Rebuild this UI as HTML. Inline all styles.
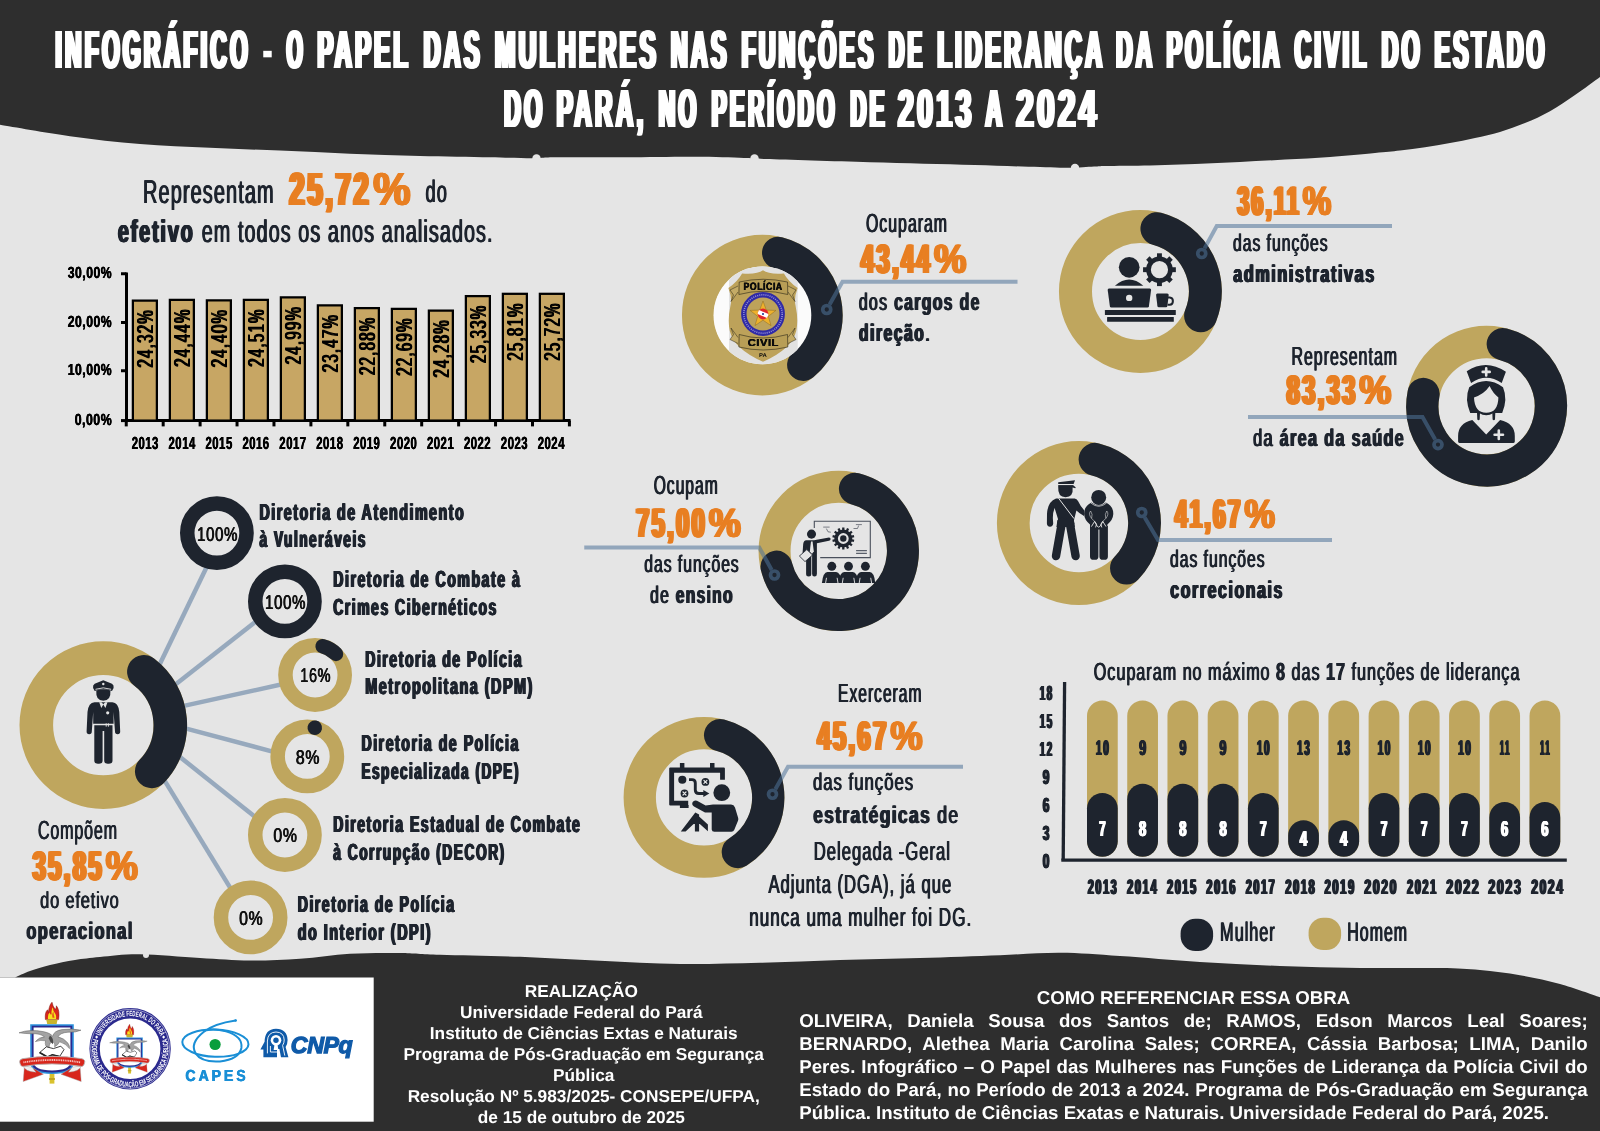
<!DOCTYPE html>
<html><head><meta charset="utf-8"><title>Infografico</title>
<style>html,body{margin:0;padding:0;background:#e5e5e5}svg{display:block;will-change:transform}text{font-family:"Liberation Sans",sans-serif}</style>
</head><body>
<svg width="1600" height="1131" viewBox="0 0 1600 1131" font-family="Liberation Sans, sans-serif" text-rendering="geometricPrecision">
<rect width="1600" height="1131" fill="#e5e5e5"/>
<path d="M0.0 124.8 C11.7 126.7 46.7 133.0 70.0 136.2 C93.3 139.4 116.7 142.1 140.0 144.0 C163.3 145.9 186.7 146.7 210.0 147.8 C233.3 148.9 256.7 149.6 280.0 150.6 C303.3 151.6 326.7 152.8 350.0 153.7 C373.3 154.6 396.7 155.3 420.0 155.9 C443.3 156.5 471.3 156.9 490.0 157.3 C508.7 157.7 521.2 158.3 532.0 158.3 C542.8 158.3 539.5 157.4 555.0 157.2 C570.5 157.0 601.7 157.4 625.0 157.3 C648.3 157.2 675.2 156.7 695.0 156.8 C714.8 156.9 732.3 157.6 744.0 158.0 C755.7 158.4 744.0 158.3 765.0 159.0 C786.0 159.7 835.0 161.2 870.0 162.2 C905.0 163.2 943.3 164.1 975.0 165.0 C1006.7 165.9 1040.2 167.4 1060.0 167.7 C1079.8 167.9 1086.5 166.8 1094.0 166.5 C1101.5 166.2 1095.7 166.1 1105.0 165.9 C1114.3 165.7 1135.0 165.7 1150.0 165.4 C1165.0 165.1 1180.0 164.7 1195.0 164.1 C1210.0 163.5 1225.0 162.8 1240.0 162.0 C1255.0 161.2 1270.0 160.4 1285.0 159.6 C1300.0 158.8 1315.0 158.0 1330.0 156.9 C1345.0 155.8 1363.3 154.1 1375.0 153.0 C1386.7 151.9 1391.7 151.6 1400.0 150.6 C1408.3 149.6 1416.7 148.4 1425.0 147.2 C1433.3 145.9 1441.7 144.6 1450.0 143.1 C1458.3 141.6 1466.7 140.0 1475.0 138.1 C1483.3 136.2 1491.7 134.4 1500.0 131.9 C1508.3 129.4 1516.7 126.5 1525.0 123.1 C1533.3 119.6 1541.7 115.9 1550.0 111.2 C1558.3 106.5 1566.7 100.7 1575.0 95.0 C1583.3 89.3 1595.8 79.9 1600.0 76.9 L1600 0 L0 0 Z" fill="#2e2e2e"/>
<circle cx="536.5" cy="158.5" r="4.2" fill="#e5e5e5"/>
<circle cx="754.5" cy="158.5" r="4.2" fill="#e5e5e5"/>
<circle cx="1075.0" cy="168.0" r="4.2" fill="#e5e5e5"/>
<path d="M0 1131 L0 977.5 L15 977.5 L15.0 977.5 C17.5 976.4 24.2 973.1 30.0 971.0 C35.8 968.9 42.5 966.8 50.0 965.0 C57.5 963.2 66.7 961.3 75.0 960.0 C83.3 958.7 89.2 958.0 100.0 957.0 C110.8 956.0 123.3 954.1 140.0 954.3 C156.7 954.5 181.7 957.0 200.0 958.0 C218.3 959.0 233.3 960.4 250.0 960.5 C266.7 960.6 283.3 959.8 300.0 958.7 C316.7 957.6 333.3 954.7 350.0 953.7 C366.7 952.8 385.0 952.8 400.0 953.0 C415.0 953.2 420.0 954.2 440.0 954.8 C460.0 955.4 493.3 955.8 520.0 956.8 C546.7 957.8 573.3 959.6 600.0 960.8 C626.7 962.0 653.3 963.7 680.0 964.0 C706.7 964.3 733.3 963.5 760.0 962.8 C786.7 962.1 813.3 960.8 840.0 960.0 C866.7 959.2 893.3 958.8 920.0 958.0 C946.7 957.2 976.7 956.1 1000.0 955.2 C1023.3 954.3 1040.0 952.7 1060.0 952.8 C1080.0 952.9 1096.7 954.5 1120.0 956.0 C1143.3 957.5 1173.3 960.3 1200.0 962.0 C1226.7 963.7 1253.3 965.0 1280.0 966.0 C1306.7 967.0 1333.3 967.7 1360.0 968.0 C1386.7 968.3 1420.0 967.7 1440.0 968.0 C1460.0 968.3 1466.7 968.8 1480.0 970.0 C1493.3 971.2 1506.7 972.9 1520.0 975.2 C1533.3 977.5 1546.7 980.3 1560.0 984.0 C1573.3 987.7 1593.3 995.0 1600.0 997.2 L1600 1131 Z" fill="#2e2e2e"/>
<rect x="0" y="977.5" width="373.7" height="144.2" fill="#ffffff"/>
<circle cx="146" cy="955" r="3" fill="#e5e5e5"/>
<g transform="translate(55.45,68.20) scale(0.4206,1)" fill="#ffffff" font-size="53.78" letter-spacing="8.083"><text id="t1" xml:space="preserve"><tspan font-weight="bold">INFOGRÁFICO</tspan></text><use href="#t1" x="-4.041"/><use href="#t1" x="-2.425"/><use href="#t1" x="-0.808"/><use href="#t1" x="0.808"/><use href="#t1" x="2.425"/><use href="#t1" x="4.041"/></g>
<g transform="translate(262.00,68.20) scale(0.6142,1)" fill="#ffffff" font-size="53.78"><text xml:space="preserve"><tspan font-weight="bold">-</tspan></text></g>
<g transform="translate(286.70,68.20) scale(0.3788,1)" fill="#ffffff" font-size="53.78" letter-spacing="8.975"><text id="t3" xml:space="preserve"><tspan font-weight="bold">O</tspan></text><use href="#t3" x="-4.488"/><use href="#t3" x="-2.693"/><use href="#t3" x="-0.898"/><use href="#t3" x="0.898"/><use href="#t3" x="2.693"/><use href="#t3" x="4.488"/></g>
<g transform="translate(317.45,68.20) scale(0.4378,1)" fill="#ffffff" font-size="53.78" letter-spacing="7.767"><text id="t4" xml:space="preserve"><tspan font-weight="bold">PAPEL</tspan></text><use href="#t4" x="-3.883"/><use href="#t4" x="-2.330"/><use href="#t4" x="-0.777"/><use href="#t4" x="0.777"/><use href="#t4" x="2.330"/><use href="#t4" x="3.883"/></g>
<g transform="translate(423.70,68.20) scale(0.4321,1)" fill="#ffffff" font-size="53.78" letter-spacing="7.869"><text id="t5" xml:space="preserve"><tspan font-weight="bold">DAS</tspan></text><use href="#t5" x="-3.935"/><use href="#t5" x="-2.361"/><use href="#t5" x="-0.787"/><use href="#t5" x="0.787"/><use href="#t5" x="2.361"/><use href="#t5" x="3.935"/></g>
<g transform="translate(494.95,68.20) scale(0.4542,1)" fill="#ffffff" font-size="53.78" letter-spacing="7.486"><text id="t6" xml:space="preserve"><tspan font-weight="bold">MULHERES</tspan></text><use href="#t6" x="-3.743"/><use href="#t6" x="-2.246"/><use href="#t6" x="-0.749"/><use href="#t6" x="0.749"/><use href="#t6" x="2.246"/><use href="#t6" x="3.743"/></g>
<g transform="translate(670.95,68.20) scale(0.4276,1)" fill="#ffffff" font-size="53.78" letter-spacing="7.950"><text id="t7" xml:space="preserve"><tspan font-weight="bold">NAS</tspan></text><use href="#t7" x="-3.975"/><use href="#t7" x="-2.385"/><use href="#t7" x="-0.795"/><use href="#t7" x="0.795"/><use href="#t7" x="2.385"/><use href="#t7" x="3.975"/></g>
<g transform="translate(741.70,68.20) scale(0.4229,1)" fill="#ffffff" font-size="53.78" letter-spacing="8.039"><text id="t8" xml:space="preserve"><tspan font-weight="bold">FUNÇÕES</tspan></text><use href="#t8" x="-4.020"/><use href="#t8" x="-2.412"/><use href="#t8" x="-0.804"/><use href="#t8" x="0.804"/><use href="#t8" x="2.412"/><use href="#t8" x="4.020"/></g>
<g transform="translate(888.70,68.20) scale(0.4009,1)" fill="#ffffff" font-size="53.78" letter-spacing="8.480"><text id="t9" xml:space="preserve"><tspan font-weight="bold">DE</tspan></text><use href="#t9" x="-4.240"/><use href="#t9" x="-2.544"/><use href="#t9" x="-0.848"/><use href="#t9" x="0.848"/><use href="#t9" x="2.544"/><use href="#t9" x="4.240"/></g>
<g transform="translate(937.45,68.20) scale(0.4340,1)" fill="#ffffff" font-size="53.78" letter-spacing="7.834"><text id="t10" xml:space="preserve"><tspan font-weight="bold">LIDERANÇA</tspan></text><use href="#t10" x="-3.917"/><use href="#t10" x="-2.350"/><use href="#t10" x="-0.783"/><use href="#t10" x="0.783"/><use href="#t10" x="2.350"/><use href="#t10" x="3.917"/></g>
<g transform="translate(1116.20,68.20) scale(0.4179,1)" fill="#ffffff" font-size="53.78" letter-spacing="8.137"><text id="t11" xml:space="preserve"><tspan font-weight="bold">DA</tspan></text><use href="#t11" x="-4.068"/><use href="#t11" x="-2.441"/><use href="#t11" x="-0.814"/><use href="#t11" x="0.814"/><use href="#t11" x="2.441"/><use href="#t11" x="4.068"/></g>
<g transform="translate(1166.70,68.20) scale(0.4238,1)" fill="#ffffff" font-size="53.78" letter-spacing="8.022"><text id="t12" xml:space="preserve"><tspan font-weight="bold">POLÍCIA</tspan></text><use href="#t12" x="-4.011"/><use href="#t12" x="-2.407"/><use href="#t12" x="-0.802"/><use href="#t12" x="0.802"/><use href="#t12" x="2.407"/><use href="#t12" x="4.011"/></g>
<g transform="translate(1294.70,68.20) scale(0.4219,1)" fill="#ffffff" font-size="53.78" letter-spacing="8.058"><text id="t13" xml:space="preserve"><tspan font-weight="bold">CIVIL</tspan></text><use href="#t13" x="-4.029"/><use href="#t13" x="-2.417"/><use href="#t13" x="-0.806"/><use href="#t13" x="0.806"/><use href="#t13" x="2.417"/><use href="#t13" x="4.029"/></g>
<g transform="translate(1381.70,68.20) scale(0.4271,1)" fill="#ffffff" font-size="53.78" letter-spacing="7.961"><text id="t14" xml:space="preserve"><tspan font-weight="bold">DO</tspan></text><use href="#t14" x="-3.981"/><use href="#t14" x="-2.388"/><use href="#t14" x="-0.796"/><use href="#t14" x="0.796"/><use href="#t14" x="2.388"/><use href="#t14" x="3.981"/></g>
<g transform="translate(1434.70,68.20) scale(0.4207,1)" fill="#ffffff" font-size="53.78" letter-spacing="8.082"><text id="t15" xml:space="preserve"><tspan font-weight="bold">ESTADO</tspan></text><use href="#t15" x="-4.041"/><use href="#t15" x="-2.425"/><use href="#t15" x="-0.808"/><use href="#t15" x="0.808"/><use href="#t15" x="2.425"/><use href="#t15" x="4.041"/></g>
<g transform="translate(504.20,126.60) scale(0.4271,1)" fill="#ffffff" font-size="53.78" letter-spacing="7.961"><text id="t16" xml:space="preserve"><tspan font-weight="bold">DO</tspan></text><use href="#t16" x="-3.981"/><use href="#t16" x="-2.388"/><use href="#t16" x="-0.796"/><use href="#t16" x="0.796"/><use href="#t16" x="2.388"/><use href="#t16" x="3.981"/></g>
<g transform="translate(556.70,126.60) scale(0.4470,1)" fill="#ffffff" font-size="53.78" letter-spacing="7.607"><text id="t17" xml:space="preserve"><tspan font-weight="bold">PARÁ,</tspan></text><use href="#t17" x="-3.804"/><use href="#t17" x="-2.282"/><use href="#t17" x="-0.761"/><use href="#t17" x="0.761"/><use href="#t17" x="2.282"/><use href="#t17" x="3.804"/></g>
<g transform="translate(658.70,126.60) scale(0.4240,1)" fill="#ffffff" font-size="53.78" letter-spacing="8.020"><text id="t18" xml:space="preserve"><tspan font-weight="bold">NO</tspan></text><use href="#t18" x="-4.010"/><use href="#t18" x="-2.406"/><use href="#t18" x="-0.802"/><use href="#t18" x="0.802"/><use href="#t18" x="2.406"/><use href="#t18" x="4.010"/></g>
<g transform="translate(711.70,126.60) scale(0.4131,1)" fill="#ffffff" font-size="53.78" letter-spacing="8.231"><text id="t19" xml:space="preserve"><tspan font-weight="bold">PERÍODO</tspan></text><use href="#t19" x="-4.116"/><use href="#t19" x="-2.469"/><use href="#t19" x="-0.823"/><use href="#t19" x="0.823"/><use href="#t19" x="2.469"/><use href="#t19" x="4.116"/></g>
<g transform="translate(850.45,126.60) scale(0.4076,1)" fill="#ffffff" font-size="53.78" letter-spacing="8.341"><text id="t20" xml:space="preserve"><tspan font-weight="bold">DE</tspan></text><use href="#t20" x="-4.170"/><use href="#t20" x="-2.502"/><use href="#t20" x="-0.834"/><use href="#t20" x="0.834"/><use href="#t20" x="2.502"/><use href="#t20" x="4.170"/></g>
<g transform="translate(897.95,126.60) scale(0.5278,1)" fill="#ffffff" font-size="53.78" letter-spacing="6.442"><text id="t21" xml:space="preserve"><tspan font-weight="bold">2013</tspan></text><use href="#t21" x="-3.221"/><use href="#t21" x="-1.933"/><use href="#t21" x="-0.644"/><use href="#t21" x="0.644"/><use href="#t21" x="1.933"/><use href="#t21" x="3.221"/></g>
<g transform="translate(985.45,126.60) scale(0.4275,1)" fill="#ffffff" font-size="53.78" letter-spacing="7.953"><text id="t22" xml:space="preserve"><tspan font-weight="bold">A</tspan></text><use href="#t22" x="-3.976"/><use href="#t22" x="-2.386"/><use href="#t22" x="-0.795"/><use href="#t22" x="0.795"/><use href="#t22" x="2.386"/><use href="#t22" x="3.976"/></g>
<g transform="translate(1016.20,126.60) scale(0.5842,1)" fill="#ffffff" font-size="53.78" letter-spacing="5.820"><text id="t23" xml:space="preserve"><tspan font-weight="bold">2024</tspan></text><use href="#t23" x="-2.910"/><use href="#t23" x="-1.746"/><use href="#t23" x="-0.582"/><use href="#t23" x="0.582"/><use href="#t23" x="1.746"/><use href="#t23" x="2.910"/></g>
<g transform="translate(143.05,202.60) scale(0.6012,1)" fill="#1e242e" font-size="33.14" letter-spacing="1.830"><text id="t24" xml:space="preserve"><tspan font-weight="normal">Representam</tspan></text><use href="#t24" x="-0.915"/><use href="#t24" x="0.915"/></g>
<g transform="translate(289.55,204.90) scale(0.5757,1)" fill="#e87f22" font-size="46.51" letter-spacing="5.211"><text id="t25" xml:space="preserve"><tspan font-weight="bold">25,72</tspan></text><use href="#t25" x="-3.387"/><use href="#t25" x="-2.258"/><use href="#t25" x="-1.129"/><use href="#t25" x="1.129"/><use href="#t25" x="2.258"/><use href="#t25" x="3.387"/></g>
<g transform="translate(373.14,204.90) scale(0.9048,1)" fill="#e87f22" font-size="46.51" letter-spacing="2.542"><text id="t26" xml:space="preserve"><tspan font-weight="bold">%</tspan></text><use href="#t26" x="-1.271"/><use href="#t26" x="-0.636"/><use href="#t26" x="0.636"/><use href="#t26" x="1.271"/></g>
<g transform="translate(425.55,202.40) scale(0.5909,1)" fill="#1e242e" font-size="30.90" letter-spacing="1.862"><text id="t27" xml:space="preserve"><tspan font-weight="normal">do</tspan></text><use href="#t27" x="-0.931"/><use href="#t27" x="0.931"/></g>
<g transform="translate(117.90,241.70) scale(0.6324,1)" fill="#1e242e" font-size="31.45" letter-spacing="2.846"><text id="t28" xml:space="preserve"><tspan font-weight="bold">efetivo</tspan></text><use href="#t28" x="-1.423"/><use href="#t28" x="-0.474"/><use href="#t28" x="0.474"/><use href="#t28" x="1.423"/></g>
<g transform="translate(201.75,241.70) scale(0.6277,1)" fill="#1e242e" font-size="31.45" letter-spacing="1.752"><text id="t29" xml:space="preserve"><tspan font-weight="normal">em todos os anos analisados.</tspan></text><use href="#t29" x="-0.876"/><use href="#t29" x="0.876"/></g>
<g stroke="#000" stroke-width="3" fill="none">
<path d="M126.50 272.5 V422.10"/>
<path d="M125.00 420.60 H570.6"/>
<path d="M121 273.75 H126.50"/>
<path d="M121 322.50 H126.50"/>
<path d="M121 370.75 H126.50"/>
<path d="M121 420.60 H126.50"/>
<path d="M126.25 420.60 V426.4"/>
<path d="M163.18 420.60 V426.4"/>
<path d="M200.11 420.60 V426.4"/>
<path d="M237.04 420.60 V426.4"/>
<path d="M273.97 420.60 V426.4"/>
<path d="M310.90 420.60 V426.4"/>
<path d="M347.83 420.60 V426.4"/>
<path d="M384.76 420.60 V426.4"/>
<path d="M421.69 420.60 V426.4"/>
<path d="M458.62 420.60 V426.4"/>
<path d="M495.55 420.60 V426.4"/>
<path d="M532.48 420.60 V426.4"/>
<path d="M569.41 420.60 V426.4"/>
</g>
<rect x="132.87" y="300.62" width="24" height="119.98" fill="#c7a664" stroke="#000" stroke-width="2.25"/>
<g transform="translate(152.75,367.50) rotate(-90) scale(0.6455,1)" fill="#000" font-size="23.11" letter-spacing="2.014"><text id="t30" xml:space="preserve"><tspan font-weight="normal">24,32%</tspan></text><use href="#t30" x="-1.007"/><use href="#t30" x="1.007"/></g>
<rect x="169.87" y="299.87" width="24" height="120.73" fill="#c7a664" stroke="#000" stroke-width="2.25"/>
<g transform="translate(189.75,366.75) rotate(-90) scale(0.6455,1)" fill="#000" font-size="23.11" letter-spacing="2.014"><text id="t31" xml:space="preserve"><tspan font-weight="normal">24,44%</tspan></text><use href="#t31" x="-1.007"/><use href="#t31" x="1.007"/></g>
<rect x="206.87" y="300.37" width="24" height="120.23" fill="#c7a664" stroke="#000" stroke-width="2.25"/>
<g transform="translate(226.75,367.25) rotate(-90) scale(0.6455,1)" fill="#000" font-size="23.11" letter-spacing="2.014"><text id="t32" xml:space="preserve"><tspan font-weight="normal">24,40%</tspan></text><use href="#t32" x="-1.007"/><use href="#t32" x="1.007"/></g>
<rect x="243.87" y="299.87" width="24" height="120.73" fill="#c7a664" stroke="#000" stroke-width="2.25"/>
<g transform="translate(263.75,366.75) rotate(-90) scale(0.6455,1)" fill="#000" font-size="23.11" letter-spacing="2.014"><text id="t33" xml:space="preserve"><tspan font-weight="normal">24,51%</tspan></text><use href="#t33" x="-1.007"/><use href="#t33" x="1.007"/></g>
<rect x="280.87" y="297.37" width="24" height="123.23" fill="#c7a664" stroke="#000" stroke-width="2.25"/>
<g transform="translate(300.75,364.25) rotate(-90) scale(0.6455,1)" fill="#000" font-size="23.11" letter-spacing="2.014"><text id="t34" xml:space="preserve"><tspan font-weight="normal">24,99%</tspan></text><use href="#t34" x="-1.007"/><use href="#t34" x="1.007"/></g>
<rect x="317.87" y="305.37" width="24" height="115.23" fill="#c7a664" stroke="#000" stroke-width="2.25"/>
<g transform="translate(337.75,372.25) rotate(-90) scale(0.6455,1)" fill="#000" font-size="23.11" letter-spacing="2.014"><text id="t35" xml:space="preserve"><tspan font-weight="normal">23,47%</tspan></text><use href="#t35" x="-1.007"/><use href="#t35" x="1.007"/></g>
<rect x="354.87" y="308.12" width="24" height="112.48" fill="#c7a664" stroke="#000" stroke-width="2.25"/>
<g transform="translate(374.75,375.00) rotate(-90) scale(0.6455,1)" fill="#000" font-size="23.11" letter-spacing="2.014"><text id="t36" xml:space="preserve"><tspan font-weight="normal">22,88%</tspan></text><use href="#t36" x="-1.007"/><use href="#t36" x="1.007"/></g>
<rect x="391.87" y="308.87" width="24" height="111.73" fill="#c7a664" stroke="#000" stroke-width="2.25"/>
<g transform="translate(411.75,375.75) rotate(-90) scale(0.6455,1)" fill="#000" font-size="23.11" letter-spacing="2.014"><text id="t37" xml:space="preserve"><tspan font-weight="normal">22,69%</tspan></text><use href="#t37" x="-1.007"/><use href="#t37" x="1.007"/></g>
<rect x="428.87" y="310.62" width="24" height="109.98" fill="#c7a664" stroke="#000" stroke-width="2.25"/>
<g transform="translate(448.75,377.50) rotate(-90) scale(0.6455,1)" fill="#000" font-size="23.11" letter-spacing="2.014"><text id="t38" xml:space="preserve"><tspan font-weight="normal">24,28%</tspan></text><use href="#t38" x="-1.007"/><use href="#t38" x="1.007"/></g>
<rect x="465.87" y="296.12" width="24" height="124.48" fill="#c7a664" stroke="#000" stroke-width="2.25"/>
<g transform="translate(485.75,363.00) rotate(-90) scale(0.6455,1)" fill="#000" font-size="23.11" letter-spacing="2.014"><text id="t39" xml:space="preserve"><tspan font-weight="normal">25,33%</tspan></text><use href="#t39" x="-1.007"/><use href="#t39" x="1.007"/></g>
<rect x="502.87" y="293.82" width="24" height="126.78" fill="#c7a664" stroke="#000" stroke-width="2.25"/>
<g transform="translate(522.75,360.70) rotate(-90) scale(0.6455,1)" fill="#000" font-size="23.11" letter-spacing="2.014"><text id="t40" xml:space="preserve"><tspan font-weight="normal">25,81%</tspan></text><use href="#t40" x="-1.007"/><use href="#t40" x="1.007"/></g>
<rect x="539.87" y="293.82" width="24" height="126.78" fill="#c7a664" stroke="#000" stroke-width="2.25"/>
<g transform="translate(559.75,360.70) rotate(-90) scale(0.6455,1)" fill="#000" font-size="23.11" letter-spacing="2.014"><text id="t41" xml:space="preserve"><tspan font-weight="normal">25,72%</tspan></text><use href="#t41" x="-1.007"/><use href="#t41" x="1.007"/></g>
<g transform="translate(131.65,449.00) scale(0.6493,1)" fill="#000" font-size="17.44" letter-spacing="0.770"><text id="t42" xml:space="preserve"><tspan font-weight="bold">2013</tspan></text><use href="#t42" x="-0.385"/><use href="#t42" x="0.385"/></g>
<g transform="translate(168.57,449.00) scale(0.6493,1)" fill="#000" font-size="17.44" letter-spacing="0.770"><text id="t43" xml:space="preserve"><tspan font-weight="bold">2014</tspan></text><use href="#t43" x="-0.385"/><use href="#t43" x="0.385"/></g>
<g transform="translate(205.49,449.00) scale(0.6493,1)" fill="#000" font-size="17.44" letter-spacing="0.770"><text id="t44" xml:space="preserve"><tspan font-weight="bold">2015</tspan></text><use href="#t44" x="-0.385"/><use href="#t44" x="0.385"/></g>
<g transform="translate(242.41,449.00) scale(0.6493,1)" fill="#000" font-size="17.44" letter-spacing="0.770"><text id="t45" xml:space="preserve"><tspan font-weight="bold">2016</tspan></text><use href="#t45" x="-0.385"/><use href="#t45" x="0.385"/></g>
<g transform="translate(279.33,449.00) scale(0.6493,1)" fill="#000" font-size="17.44" letter-spacing="0.770"><text id="t46" xml:space="preserve"><tspan font-weight="bold">2017</tspan></text><use href="#t46" x="-0.385"/><use href="#t46" x="0.385"/></g>
<g transform="translate(316.25,449.00) scale(0.6493,1)" fill="#000" font-size="17.44" letter-spacing="0.770"><text id="t47" xml:space="preserve"><tspan font-weight="bold">2018</tspan></text><use href="#t47" x="-0.385"/><use href="#t47" x="0.385"/></g>
<g transform="translate(353.17,449.00) scale(0.6493,1)" fill="#000" font-size="17.44" letter-spacing="0.770"><text id="t48" xml:space="preserve"><tspan font-weight="bold">2019</tspan></text><use href="#t48" x="-0.385"/><use href="#t48" x="0.385"/></g>
<g transform="translate(390.09,449.00) scale(0.6493,1)" fill="#000" font-size="17.44" letter-spacing="0.770"><text id="t49" xml:space="preserve"><tspan font-weight="bold">2020</tspan></text><use href="#t49" x="-0.385"/><use href="#t49" x="0.385"/></g>
<g transform="translate(427.01,449.00) scale(0.6493,1)" fill="#000" font-size="17.44" letter-spacing="0.770"><text id="t50" xml:space="preserve"><tspan font-weight="bold">2021</tspan></text><use href="#t50" x="-0.385"/><use href="#t50" x="0.385"/></g>
<g transform="translate(463.93,449.00) scale(0.6493,1)" fill="#000" font-size="17.44" letter-spacing="0.770"><text id="t51" xml:space="preserve"><tspan font-weight="bold">2022</tspan></text><use href="#t51" x="-0.385"/><use href="#t51" x="0.385"/></g>
<g transform="translate(500.85,449.00) scale(0.6493,1)" fill="#000" font-size="17.44" letter-spacing="0.770"><text id="t52" xml:space="preserve"><tspan font-weight="bold">2023</tspan></text><use href="#t52" x="-0.385"/><use href="#t52" x="0.385"/></g>
<g transform="translate(537.77,449.00) scale(0.6493,1)" fill="#000" font-size="17.44" letter-spacing="0.770"><text id="t53" xml:space="preserve"><tspan font-weight="bold">2024</tspan></text><use href="#t53" x="-0.385"/><use href="#t53" x="0.385"/></g>
<g transform="translate(67.65,278.35) scale(0.7583,1)" fill="#000" font-size="16.13" letter-spacing="0.659"><text id="t54" xml:space="preserve"><tspan font-weight="bold">30,00%</tspan></text><use href="#t54" x="-0.330"/><use href="#t54" x="0.330"/></g>
<g transform="translate(67.65,327.10) scale(0.7583,1)" fill="#000" font-size="16.13" letter-spacing="0.659"><text id="t55" xml:space="preserve"><tspan font-weight="bold">20,00%</tspan></text><use href="#t55" x="-0.330"/><use href="#t55" x="0.330"/></g>
<g transform="translate(67.65,375.35) scale(0.7583,1)" fill="#000" font-size="16.13" letter-spacing="0.659"><text id="t56" xml:space="preserve"><tspan font-weight="bold">10,00%</tspan></text><use href="#t56" x="-0.330"/><use href="#t56" x="0.330"/></g>
<g transform="translate(74.65,424.60) scale(0.7652,1)" fill="#000" font-size="16.13" letter-spacing="0.653"><text id="t57" xml:space="preserve"><tspan font-weight="bold">0,00%</tspan></text><use href="#t57" x="-0.327"/><use href="#t57" x="0.327"/></g>
<g stroke="#97a9bd" stroke-width="4.5" fill="none">
<path d="M156.85 670.31 L208.98 562.30"/>
<path d="M168.43 689.96 L260.00 618.27"/>
<path d="M175.83 707.65 L286.61 683.28"/>
<path d="M177.83 726.44 L278.23 753.05"/>
<path d="M172.28 750.87 L259.36 820.18"/>
<path d="M159.88 772.87 L233.48 893.12"/>
</g>
<circle cx="103.30" cy="725.10" r="67.00" fill="none" stroke="#bfa65e" stroke-width="33.60"/>
<path d="M143.90 671.80 A67.00 67.00 0 0 1 151.74 771.39" fill="none" stroke="#1e242e" stroke-width="33.60" stroke-linecap="round"/>
<circle cx="216.90" cy="533.10" r="29.65" fill="none" stroke="#1e242e" stroke-width="14.50"/>
<g transform="translate(197.05,540.50) scale(0.7499,1)" fill="#111" font-size="19.91" letter-spacing="0.933"><text id="t58" xml:space="preserve"><tspan font-weight="normal">100%</tspan></text><use href="#t58" x="-0.467"/><use href="#t58" x="0.467"/></g>
<circle cx="284.90" cy="601.40" r="29.65" fill="none" stroke="#1e242e" stroke-width="14.50"/>
<g transform="translate(265.05,608.80) scale(0.7499,1)" fill="#111" font-size="19.91" letter-spacing="0.933"><text id="t59" xml:space="preserve"><tspan font-weight="normal">100%</tspan></text><use href="#t59" x="-0.467"/><use href="#t59" x="0.467"/></g>
<circle cx="315.10" cy="675.00" r="29.65" fill="none" stroke="#bfa65e" stroke-width="14.50"/>
<path d="M322.62 646.32 A29.65 29.65 0 0 1 335.96 653.92" fill="none" stroke="#1e242e" stroke-width="14.50" stroke-linecap="round"/>
<g transform="translate(300.25,682.40) scale(0.7253,1)" fill="#111" font-size="19.91" letter-spacing="0.965"><text id="t60" xml:space="preserve"><tspan font-weight="normal">16%</tspan></text><use href="#t60" x="-0.483"/><use href="#t60" x="0.483"/></g>
<circle cx="307.30" cy="756.40" r="29.65" fill="none" stroke="#bfa65e" stroke-width="14.50"/>
<path d="M314.77 727.71 A29.65 29.65 0 0 1 314.82 727.72" fill="none" stroke="#1e242e" stroke-width="14.50" stroke-linecap="round"/>
<g transform="translate(295.85,763.80) scale(0.7923,1)" fill="#111" font-size="19.91" letter-spacing="0.883"><text id="t61" xml:space="preserve"><tspan font-weight="normal">8%</tspan></text><use href="#t61" x="-0.442"/><use href="#t61" x="0.442"/></g>
<circle cx="284.90" cy="835.00" r="29.65" fill="none" stroke="#bfa65e" stroke-width="14.50"/>
<g transform="translate(273.45,842.40) scale(0.7923,1)" fill="#111" font-size="19.91" letter-spacing="0.883"><text id="t62" xml:space="preserve"><tspan font-weight="normal">0%</tspan></text><use href="#t62" x="-0.442"/><use href="#t62" x="0.442"/></g>
<circle cx="250.60" cy="917.40" r="29.65" fill="none" stroke="#bfa65e" stroke-width="14.50"/>
<g transform="translate(239.15,924.80) scale(0.7923,1)" fill="#111" font-size="19.91" letter-spacing="0.883"><text id="t63" xml:space="preserve"><tspan font-weight="normal">0%</tspan></text><use href="#t63" x="-0.442"/><use href="#t63" x="0.442"/></g>
<g transform="translate(259.45,519.70) scale(0.6131,1)" fill="#1e242e" font-size="23.26" letter-spacing="2.447"><text id="t64" xml:space="preserve"><tspan font-weight="bold">Diretoria de Atendimento</tspan></text><use href="#t64" x="-1.223"/><use href="#t64" x="-0.408"/><use href="#t64" x="0.408"/><use href="#t64" x="1.223"/></g>
<g transform="translate(259.45,547.20) scale(0.5902,1)" fill="#1e242e" font-size="23.26" letter-spacing="2.541"><text id="t65" xml:space="preserve"><tspan font-weight="bold">à Vulneráveis</tspan></text><use href="#t65" x="-1.271"/><use href="#t65" x="-0.424"/><use href="#t65" x="0.424"/><use href="#t65" x="1.271"/></g>
<g transform="translate(333.25,587.00) scale(0.6095,1)" fill="#1e242e" font-size="23.26" letter-spacing="2.461"><text id="t66" xml:space="preserve"><tspan font-weight="bold">Diretoria de Combate à</tspan></text><use href="#t66" x="-1.231"/><use href="#t66" x="-0.410"/><use href="#t66" x="0.410"/><use href="#t66" x="1.231"/></g>
<g transform="translate(333.25,614.50) scale(0.6013,1)" fill="#1e242e" font-size="23.26" letter-spacing="2.495"><text id="t67" xml:space="preserve"><tspan font-weight="bold">Crimes Cibernéticos</tspan></text><use href="#t67" x="-1.247"/><use href="#t67" x="-0.416"/><use href="#t67" x="0.416"/><use href="#t67" x="1.247"/></g>
<g transform="translate(365.25,666.50) scale(0.6072,1)" fill="#1e242e" font-size="23.26" letter-spacing="2.470"><text id="t68" xml:space="preserve"><tspan font-weight="bold">Diretoria de Polícia</tspan></text><use href="#t68" x="-1.235"/><use href="#t68" x="-0.412"/><use href="#t68" x="0.412"/><use href="#t68" x="1.235"/></g>
<g transform="translate(365.25,694.20) scale(0.6201,1)" fill="#1e242e" font-size="23.26" letter-spacing="2.419"><text id="t69" xml:space="preserve"><tspan font-weight="bold">Metropolitana (DPM)</tspan></text><use href="#t69" x="-1.209"/><use href="#t69" x="-0.403"/><use href="#t69" x="0.403"/><use href="#t69" x="1.209"/></g>
<g transform="translate(361.45,751.00) scale(0.6095,1)" fill="#1e242e" font-size="23.26" letter-spacing="2.461"><text id="t70" xml:space="preserve"><tspan font-weight="bold">Diretoria de Polícia</tspan></text><use href="#t70" x="-1.230"/><use href="#t70" x="-0.410"/><use href="#t70" x="0.410"/><use href="#t70" x="1.230"/></g>
<g transform="translate(361.45,778.50) scale(0.5848,1)" fill="#1e242e" font-size="23.26" letter-spacing="2.565"><text id="t71" xml:space="preserve"><tspan font-weight="bold">Especializada (DPE)</tspan></text><use href="#t71" x="-1.283"/><use href="#t71" x="-0.428"/><use href="#t71" x="0.428"/><use href="#t71" x="1.283"/></g>
<g transform="translate(333.25,832.20) scale(0.6046,1)" fill="#1e242e" font-size="23.26" letter-spacing="2.481"><text id="t72" xml:space="preserve"><tspan font-weight="bold">Diretoria Estadual de Combate</tspan></text><use href="#t72" x="-1.241"/><use href="#t72" x="-0.414"/><use href="#t72" x="0.414"/><use href="#t72" x="1.241"/></g>
<g transform="translate(333.25,860.20) scale(0.5928,1)" fill="#1e242e" font-size="23.26" letter-spacing="2.530"><text id="t73" xml:space="preserve"><tspan font-weight="bold">à Corrupção (DECOR)</tspan></text><use href="#t73" x="-1.265"/><use href="#t73" x="-0.422"/><use href="#t73" x="0.422"/><use href="#t73" x="1.265"/></g>
<g transform="translate(297.75,912.20) scale(0.6072,1)" fill="#1e242e" font-size="23.26" letter-spacing="2.470"><text id="t74" xml:space="preserve"><tspan font-weight="bold">Diretoria de Polícia</tspan></text><use href="#t74" x="-1.235"/><use href="#t74" x="-0.412"/><use href="#t74" x="0.412"/><use href="#t74" x="1.235"/></g>
<g transform="translate(297.75,939.70) scale(0.6187,1)" fill="#1e242e" font-size="23.26" letter-spacing="2.425"><text id="t75" xml:space="preserve"><tspan font-weight="bold">do Interior (DPI)</tspan></text><use href="#t75" x="-1.212"/><use href="#t75" x="-0.404"/><use href="#t75" x="0.404"/><use href="#t75" x="1.212"/></g>
<g transform="translate(37.90,838.80) scale(0.6165,1)" fill="#1e242e" font-size="26.16" letter-spacing="1.298"><text id="t76" xml:space="preserve"><tspan font-weight="normal">Compõem</tspan></text><use href="#t76" x="-0.649"/><use href="#t76" x="0.649"/></g>
<g transform="translate(32.75,880.20) scale(0.5646,1)" fill="#e87f22" font-size="41.28" letter-spacing="4.605"><text id="t77" xml:space="preserve"><tspan font-weight="bold">35,85</tspan></text><use href="#t77" x="-3.100"/><use href="#t77" x="-1.860"/><use href="#t77" x="-0.620"/><use href="#t77" x="0.620"/><use href="#t77" x="1.860"/><use href="#t77" x="3.100"/></g>
<g transform="translate(105.66,880.20) scale(0.8800,1)" fill="#e87f22" font-size="41.28" letter-spacing="2.614"><text id="t78" xml:space="preserve"><tspan font-weight="bold">%</tspan></text><use href="#t78" x="-1.307"/><use href="#t78" x="-0.653"/><use href="#t78" x="0.653"/><use href="#t78" x="1.307"/></g>
<g transform="translate(40.10,908.20) scale(0.7074,1)" fill="#1e242e" font-size="23.31" letter-spacing="1.131"><text id="t79" xml:space="preserve"><tspan font-weight="normal">do efetivo</tspan></text><use href="#t79" x="-0.565"/><use href="#t79" x="0.565"/></g>
<g transform="translate(26.40,939.20) scale(0.6829,1)" fill="#1e242e" font-size="24.00" letter-spacing="2.050"><text id="t80" xml:space="preserve"><tspan font-weight="bold">operacional</tspan></text><use href="#t80" x="-1.025"/><use href="#t80" x="1.025"/></g>
<circle cx="762.30" cy="315.15" r="49.30" fill="#f6f6f6"/>
<circle cx="762.30" cy="315.15" r="64.32" fill="none" stroke="#bfa65e" stroke-width="32.05"/>
<path d="M778.08 252.79 A64.32 64.32 0 0 1 803.13 364.86" fill="none" stroke="#1e242e" stroke-width="32.05" stroke-linecap="round"/>
<g stroke="#4f7299" stroke-opacity="0.55" fill="none" stroke-width="4">
<path d="M829.61 304.46 L842.50 281.75 H1017.50" stroke-linejoin="miter"/>
<circle cx="826.75" cy="309.50" r="4.0" stroke-width="3.7"/>
</g>
<g transform="translate(866.00,232.30) scale(0.6059,1)" fill="#1e242e" font-size="26.16" letter-spacing="1.650"><text id="t81" xml:space="preserve"><tspan font-weight="normal">Ocuparam</tspan></text><use href="#t81" x="-0.825"/><use href="#t81" x="0.825"/></g>
<g transform="translate(860.95,273.00) scale(0.5679,1)" fill="#e87f22" font-size="41.13" letter-spacing="4.578"><text id="t82" xml:space="preserve"><tspan font-weight="bold">43,44</tspan></text><use href="#t82" x="-3.082"/><use href="#t82" x="-1.849"/><use href="#t82" x="-0.616"/><use href="#t82" x="0.616"/><use href="#t82" x="1.849"/><use href="#t82" x="3.082"/></g>
<g transform="translate(933.99,273.00) scale(0.8848,1)" fill="#e87f22" font-size="41.13" letter-spacing="2.599"><text id="t83" xml:space="preserve"><tspan font-weight="bold">%</tspan></text><use href="#t83" x="-1.300"/><use href="#t83" x="-0.650"/><use href="#t83" x="0.650"/><use href="#t83" x="1.300"/></g>
<g transform="translate(858.85,310.00) scale(0.6608,1)" fill="#1e242e" font-size="24.00" letter-spacing="1.967"><text id="t84" xml:space="preserve"><tspan font-weight="normal">dos </tspan><tspan font-weight="bold">cargos de</tspan></text><use href="#t84" x="-0.984"/><use href="#t84" x="0.984"/></g>
<g transform="translate(859.00,341.30) scale(0.6464,1)" fill="#1e242e" font-size="24.00" letter-spacing="2.475"><text id="t85" xml:space="preserve"><tspan font-weight="bold">direção</tspan><tspan font-weight="normal">.</tspan></text><use href="#t85" x="-1.238"/><use href="#t85" x="-0.413"/><use href="#t85" x="0.413"/><use href="#t85" x="1.238"/></g>
<circle cx="1140.40" cy="291.50" r="64.92" fill="none" stroke="#bfa65e" stroke-width="33.05"/>
<path d="M1156.98 228.73 A64.92 64.92 0 0 1 1200.64 315.72" fill="none" stroke="#1e242e" stroke-width="33.05" stroke-linecap="round"/>
<g stroke="#4f7299" stroke-opacity="0.55" fill="none" stroke-width="4">
<path d="M1204.53 248.41 L1216.75 226.00 H1392.00" stroke-linejoin="miter"/>
<circle cx="1201.75" cy="253.50" r="4.0" stroke-width="3.7"/>
</g>
<g transform="translate(1237.45,215.00) scale(0.5043,1)" fill="#e87f22" font-size="41.13" letter-spacing="5.155"><text id="t86" xml:space="preserve"><tspan font-weight="bold">36,11</tspan></text><use href="#t86" x="-3.470"/><use href="#t86" x="-2.082"/><use href="#t86" x="-0.694"/><use href="#t86" x="0.694"/><use href="#t86" x="2.082"/><use href="#t86" x="3.470"/></g>
<g transform="translate(1302.67,215.00) scale(0.7842,1)" fill="#e87f22" font-size="41.13" letter-spacing="2.933"><text id="t87" xml:space="preserve"><tspan font-weight="bold">%</tspan></text><use href="#t87" x="-1.466"/><use href="#t87" x="-0.733"/><use href="#t87" x="0.733"/><use href="#t87" x="1.466"/></g>
<g transform="translate(1233.00,250.80) scale(0.6529,1)" fill="#1e242e" font-size="24.00" letter-spacing="1.532"><text id="t88" xml:space="preserve"><tspan font-weight="normal">das funções</tspan></text><use href="#t88" x="-0.766"/><use href="#t88" x="0.766"/></g>
<g transform="translate(1233.30,281.50) scale(0.6731,1)" fill="#1e242e" font-size="24.00" letter-spacing="2.377"><text id="t89" xml:space="preserve"><tspan font-weight="bold">administrativas</tspan></text><use href="#t89" x="-1.189"/><use href="#t89" x="-0.396"/><use href="#t89" x="0.396"/><use href="#t89" x="1.189"/></g>
<circle cx="1486.60" cy="406.25" r="64.25" fill="none" stroke="#bfa65e" stroke-width="32.30"/>
<path d="M1502.80 344.07 A64.25 64.25 0 1 1 1423.53 393.99" fill="none" stroke="#1e242e" stroke-width="32.30" stroke-linecap="round"/>
<g stroke="#4f7299" stroke-opacity="0.55" fill="none" stroke-width="4">
<path d="M1435.16 439.54 L1422.50 417.00 H1248.00" stroke-linejoin="miter"/>
<circle cx="1438.00" cy="444.60" r="4.0" stroke-width="3.7"/>
</g>
<g transform="translate(1291.50,364.50) scale(0.6081,1)" fill="#1e242e" font-size="26.16" letter-spacing="1.645"><text id="t90" xml:space="preserve"><tspan font-weight="normal">Representam</tspan></text><use href="#t90" x="-0.822"/><use href="#t90" x="0.822"/></g>
<g transform="translate(1286.75,403.50) scale(0.5627,1)" fill="#e87f22" font-size="41.13" letter-spacing="4.621"><text id="t91" xml:space="preserve"><tspan font-weight="bold">83,33</tspan></text><use href="#t91" x="-3.110"/><use href="#t91" x="-1.866"/><use href="#t91" x="-0.622"/><use href="#t91" x="0.622"/><use href="#t91" x="1.866"/><use href="#t91" x="3.110"/></g>
<g transform="translate(1359.25,403.50) scale(0.8778,1)" fill="#e87f22" font-size="41.13" letter-spacing="2.620"><text id="t92" xml:space="preserve"><tspan font-weight="bold">%</tspan></text><use href="#t92" x="-1.310"/><use href="#t92" x="-0.655"/><use href="#t92" x="0.655"/><use href="#t92" x="1.310"/></g>
<g transform="translate(1253.15,445.80) scale(0.6777,1)" fill="#1e242e" font-size="24.00" letter-spacing="1.918"><text id="t93" xml:space="preserve"><tspan font-weight="normal">da </tspan><tspan font-weight="bold">área da saúde</tspan></text><use href="#t93" x="-0.959"/><use href="#t93" x="0.959"/></g>
<circle cx="838.75" cy="550.90" r="64.20" fill="none" stroke="#bfa65e" stroke-width="32.00"/>
<path d="M854.93 488.77 A64.20 64.20 0 1 1 776.51 566.65" fill="none" stroke="#1e242e" stroke-width="32.00" stroke-linecap="round"/>
<g stroke="#4f7299" stroke-opacity="0.55" fill="none" stroke-width="4">
<path d="M771.69 569.93 L759.25 547.50 H584.25" stroke-linejoin="miter"/>
<circle cx="774.50" cy="575.00" r="4.0" stroke-width="3.7"/>
</g>
<g transform="translate(653.70,494.00) scale(0.5967,1)" fill="#1e242e" font-size="26.16" letter-spacing="1.676"><text id="t94" xml:space="preserve"><tspan font-weight="normal">Ocupam</tspan></text><use href="#t94" x="-0.838"/><use href="#t94" x="0.838"/></g>
<g transform="translate(636.25,537.20) scale(0.5627,1)" fill="#e87f22" font-size="41.13" letter-spacing="4.621"><text id="t95" xml:space="preserve"><tspan font-weight="bold">75,00</tspan></text><use href="#t95" x="-3.110"/><use href="#t95" x="-1.866"/><use href="#t95" x="-0.622"/><use href="#t95" x="0.622"/><use href="#t95" x="1.866"/><use href="#t95" x="3.110"/></g>
<g transform="translate(708.75,537.20) scale(0.8778,1)" fill="#e87f22" font-size="41.13" letter-spacing="2.620"><text id="t96" xml:space="preserve"><tspan font-weight="bold">%</tspan></text><use href="#t96" x="-1.310"/><use href="#t96" x="-0.655"/><use href="#t96" x="0.655"/><use href="#t96" x="1.310"/></g>
<g transform="translate(644.20,572.00) scale(0.6529,1)" fill="#1e242e" font-size="24.00" letter-spacing="1.532"><text id="t97" xml:space="preserve"><tspan font-weight="normal">das funções</tspan></text><use href="#t97" x="-0.766"/><use href="#t97" x="0.766"/></g>
<g transform="translate(650.15,603.30) scale(0.6503,1)" fill="#1e242e" font-size="24.00" letter-spacing="1.999"><text id="t98" xml:space="preserve"><tspan font-weight="normal">de </tspan><tspan font-weight="bold">ensino</tspan></text><use href="#t98" x="-1.000"/><use href="#t98" x="1.000"/></g>
<circle cx="1078.90" cy="522.90" r="65.62" fill="none" stroke="#bfa65e" stroke-width="32.75"/>
<path d="M1095.00 459.28 A65.62 65.62 0 0 1 1126.42 568.16" fill="none" stroke="#1e242e" stroke-width="32.75" stroke-linecap="round"/>
<g stroke="#4f7299" stroke-opacity="0.55" fill="none" stroke-width="4">
<path d="M1144.70 517.49 L1158.00 540.00 H1332.00" stroke-linejoin="miter"/>
<circle cx="1141.75" cy="512.50" r="4.0" stroke-width="3.7"/>
</g>
<g transform="translate(1174.95,527.50) scale(0.5335,1)" fill="#e87f22" font-size="41.13" letter-spacing="4.874"><text id="t99" xml:space="preserve"><tspan font-weight="bold">41,67</tspan></text><use href="#t99" x="-3.280"/><use href="#t99" x="-1.968"/><use href="#t99" x="-0.656"/><use href="#t99" x="0.656"/><use href="#t99" x="1.968"/><use href="#t99" x="3.280"/></g>
<g transform="translate(1244.39,527.50) scale(0.8384,1)" fill="#e87f22" font-size="41.13" letter-spacing="2.743"><text id="t100" xml:space="preserve"><tspan font-weight="bold">%</tspan></text><use href="#t100" x="-1.372"/><use href="#t100" x="-0.686"/><use href="#t100" x="0.686"/><use href="#t100" x="1.372"/></g>
<g transform="translate(1170.00,566.50) scale(0.6529,1)" fill="#1e242e" font-size="24.00" letter-spacing="1.532"><text id="t101" xml:space="preserve"><tspan font-weight="normal">das funções</tspan></text><use href="#t101" x="-0.766"/><use href="#t101" x="0.766"/></g>
<g transform="translate(1170.30,597.80) scale(0.6621,1)" fill="#1e242e" font-size="24.00" letter-spacing="2.417"><text id="t102" xml:space="preserve"><tspan font-weight="bold">correcionais</tspan></text><use href="#t102" x="-1.208"/><use href="#t102" x="-0.403"/><use href="#t102" x="0.403"/><use href="#t102" x="1.208"/></g>
<circle cx="704.00" cy="797.40" r="64.25" fill="none" stroke="#bfa65e" stroke-width="32.30"/>
<path d="M720.09 735.20 A64.25 64.25 0 0 1 737.86 852.01" fill="none" stroke="#1e242e" stroke-width="32.30" stroke-linecap="round"/>
<g stroke="#4f7299" stroke-opacity="0.55" fill="none" stroke-width="4">
<path d="M775.35 789.20 L788.00 766.75 H963.00" stroke-linejoin="miter"/>
<circle cx="772.50" cy="794.25" r="4.0" stroke-width="3.7"/>
</g>
<g transform="translate(838.00,702.40) scale(0.5969,1)" fill="#1e242e" font-size="26.16" letter-spacing="1.675"><text id="t103" xml:space="preserve"><tspan font-weight="normal">Exerceram</tspan></text><use href="#t103" x="-0.838"/><use href="#t103" x="0.838"/></g>
<g transform="translate(817.45,750.00) scale(0.5659,1)" fill="#e87f22" font-size="41.13" letter-spacing="4.594"><text id="t104" xml:space="preserve"><tspan font-weight="bold">45,67</tspan></text><use href="#t104" x="-3.092"/><use href="#t104" x="-1.855"/><use href="#t104" x="-0.618"/><use href="#t104" x="0.618"/><use href="#t104" x="1.855"/><use href="#t104" x="3.092"/></g>
<g transform="translate(890.29,750.00) scale(0.8822,1)" fill="#e87f22" font-size="41.13" letter-spacing="2.607"><text id="t105" xml:space="preserve"><tspan font-weight="bold">%</tspan></text><use href="#t105" x="-1.304"/><use href="#t105" x="-0.652"/><use href="#t105" x="0.652"/><use href="#t105" x="1.304"/></g>
<g transform="translate(813.00,790.30) scale(0.6969,1)" fill="#1e242e" font-size="24.00" letter-spacing="1.435"><text id="t106" xml:space="preserve"><tspan font-weight="normal">das funções</tspan></text><use href="#t106" x="-0.717"/><use href="#t106" x="0.717"/></g>
<g transform="translate(813.15,822.80) scale(0.7305,1)" fill="#1e242e" font-size="24.00" letter-spacing="1.780"><text id="t107" xml:space="preserve"><tspan font-weight="bold">estratégicas</tspan><tspan font-weight="normal"> de</tspan></text><use href="#t107" x="-0.890"/><use href="#t107" x="0.890"/></g>
<g transform="translate(813.70,859.50) scale(0.6371,1)" fill="#1e242e" font-size="26.16" letter-spacing="1.570"><text id="t108" xml:space="preserve"><tspan font-weight="normal">Delegada -Geral</tspan></text><use href="#t108" x="-0.785"/><use href="#t108" x="0.785"/></g>
<g transform="translate(768.50,892.80) scale(0.6357,1)" fill="#1e242e" font-size="26.16" letter-spacing="1.573"><text id="t109" xml:space="preserve"><tspan font-weight="normal">Adjunta (DGA), já que</tspan></text><use href="#t109" x="-0.787"/><use href="#t109" x="0.787"/></g>
<g transform="translate(749.20,925.80) scale(0.6517,1)" fill="#1e242e" font-size="26.16" letter-spacing="1.535"><text id="t110" xml:space="preserve"><tspan font-weight="normal">nunca uma mulher foi DG.</tspan></text><use href="#t110" x="-0.767"/><use href="#t110" x="0.767"/></g>
<g transform="translate(1093.80,680.10) scale(0.6533,1)" fill="#1e242e" font-size="24.71" letter-spacing="1.531"><text id="t111" xml:space="preserve"><tspan font-weight="normal">Ocuparam no máximo </tspan><tspan font-weight="bold">8</tspan><tspan font-weight="normal"> das </tspan><tspan font-weight="bold">17</tspan><tspan font-weight="normal"> funções de liderança</tspan></text><use href="#t111" x="-0.765"/><use href="#t111" x="0.765"/></g>
<path d="M1064.6 682 L1063.2 860.2" stroke="#1e242e" stroke-width="3.3" fill="none"/>
<path d="M1061.3 860.2 H1566.8" stroke="#1e242e" stroke-width="3.3" fill="none"/>
<g transform="translate(1042.70,868.15) scale(0.5834,1)" fill="#1e242e" font-size="20.35" letter-spacing="2.571"><text id="t112" xml:space="preserve"><tspan font-weight="bold">0</tspan></text><use href="#t112" x="-1.286"/><use href="#t112" x="-0.429"/><use href="#t112" x="0.429"/><use href="#t112" x="1.286"/></g>
<g transform="translate(1042.70,840.11) scale(0.5834,1)" fill="#1e242e" font-size="20.35" letter-spacing="2.571"><text id="t113" xml:space="preserve"><tspan font-weight="bold">3</tspan></text><use href="#t113" x="-1.286"/><use href="#t113" x="-0.429"/><use href="#t113" x="0.429"/><use href="#t113" x="1.286"/></g>
<g transform="translate(1042.70,812.07) scale(0.5834,1)" fill="#1e242e" font-size="20.35" letter-spacing="2.571"><text id="t114" xml:space="preserve"><tspan font-weight="bold">6</tspan></text><use href="#t114" x="-1.286"/><use href="#t114" x="-0.429"/><use href="#t114" x="0.429"/><use href="#t114" x="1.286"/></g>
<g transform="translate(1042.70,784.03) scale(0.5834,1)" fill="#1e242e" font-size="20.35" letter-spacing="2.571"><text id="t115" xml:space="preserve"><tspan font-weight="bold">9</tspan></text><use href="#t115" x="-1.286"/><use href="#t115" x="-0.429"/><use href="#t115" x="0.429"/><use href="#t115" x="1.286"/></g>
<g transform="translate(1039.85,755.99) scale(0.4773,1)" fill="#1e242e" font-size="20.35" letter-spacing="3.143"><text id="t116" xml:space="preserve"><tspan font-weight="bold">12</tspan></text><use href="#t116" x="-1.571"/><use href="#t116" x="-0.524"/><use href="#t116" x="0.524"/><use href="#t116" x="1.571"/></g>
<g transform="translate(1039.85,727.95) scale(0.4773,1)" fill="#1e242e" font-size="20.35" letter-spacing="3.143"><text id="t117" xml:space="preserve"><tspan font-weight="bold">15</tspan></text><use href="#t117" x="-1.571"/><use href="#t117" x="-0.524"/><use href="#t117" x="0.524"/><use href="#t117" x="1.571"/></g>
<g transform="translate(1039.85,699.90) scale(0.4773,1)" fill="#1e242e" font-size="20.35" letter-spacing="3.143"><text id="t118" xml:space="preserve"><tspan font-weight="bold">18</tspan></text><use href="#t118" x="-1.571"/><use href="#t118" x="-0.524"/><use href="#t118" x="0.524"/><use href="#t118" x="1.571"/></g>
<rect x="1087.00" y="700.50" width="30.75" height="156.25" rx="15.38" fill="#bfa65e"/>
<rect x="1087.00" y="792.91" width="30.75" height="63.84" rx="15.38" fill="#1e242e"/>
<g transform="translate(1096.08,755.40) scale(0.4736,1)" fill="#1e242e" font-size="21.08" letter-spacing="3.167"><text id="t119" xml:space="preserve"><tspan font-weight="bold">10</tspan></text><use href="#t119" x="-1.584"/><use href="#t119" x="-0.528"/><use href="#t119" x="0.528"/><use href="#t119" x="1.584"/></g>
<g transform="translate(1099.22,836.00) scale(0.5267,1)" fill="#ffffff" font-size="21.51" letter-spacing="3.038"><text id="t120" xml:space="preserve"><tspan font-weight="bold">7</tspan></text><use href="#t120" x="-1.519"/><use href="#t120" x="-0.506"/><use href="#t120" x="0.506"/><use href="#t120" x="1.519"/></g>
<g transform="translate(1087.85,894.20) scale(0.5089,1)" fill="#1e242e" font-size="20.93" letter-spacing="3.340"><text id="t121" xml:space="preserve"><tspan font-weight="bold">2013</tspan></text><use href="#t121" x="-1.670"/><use href="#t121" x="-0.557"/><use href="#t121" x="0.557"/><use href="#t121" x="1.670"/></g>
<rect x="1127.23" y="700.50" width="30.75" height="156.25" rx="15.38" fill="#bfa65e"/>
<rect x="1127.23" y="783.79" width="30.75" height="72.96" rx="15.38" fill="#1e242e"/>
<g transform="translate(1139.15,755.40) scale(0.5888,1)" fill="#1e242e" font-size="21.08" letter-spacing="2.547"><text id="t122" xml:space="preserve"><tspan font-weight="bold">9</tspan></text><use href="#t122" x="-1.274"/><use href="#t122" x="-0.425"/><use href="#t122" x="0.425"/><use href="#t122" x="1.274"/></g>
<g transform="translate(1139.00,836.00) scale(0.6020,1)" fill="#ffffff" font-size="21.51" letter-spacing="2.658"><text id="t123" xml:space="preserve"><tspan font-weight="bold">8</tspan></text><use href="#t123" x="-1.329"/><use href="#t123" x="-0.443"/><use href="#t123" x="0.443"/><use href="#t123" x="1.329"/></g>
<g transform="translate(1127.10,894.20) scale(0.5250,1)" fill="#1e242e" font-size="20.93" letter-spacing="3.238"><text id="t124" xml:space="preserve"><tspan font-weight="bold">2014</tspan></text><use href="#t124" x="-1.619"/><use href="#t124" x="-0.540"/><use href="#t124" x="0.540"/><use href="#t124" x="1.619"/></g>
<rect x="1167.46" y="700.50" width="30.75" height="156.25" rx="15.38" fill="#bfa65e"/>
<rect x="1167.46" y="783.79" width="30.75" height="72.96" rx="15.38" fill="#1e242e"/>
<g transform="translate(1179.38,755.40) scale(0.5888,1)" fill="#1e242e" font-size="21.08" letter-spacing="2.547"><text id="t125" xml:space="preserve"><tspan font-weight="bold">9</tspan></text><use href="#t125" x="-1.274"/><use href="#t125" x="-0.425"/><use href="#t125" x="0.425"/><use href="#t125" x="1.274"/></g>
<g transform="translate(1179.23,836.00) scale(0.6020,1)" fill="#ffffff" font-size="21.51" letter-spacing="2.658"><text id="t126" xml:space="preserve"><tspan font-weight="bold">8</tspan></text><use href="#t126" x="-1.329"/><use href="#t126" x="-0.443"/><use href="#t126" x="0.443"/><use href="#t126" x="1.329"/></g>
<g transform="translate(1167.10,894.20) scale(0.5143,1)" fill="#1e242e" font-size="20.93" letter-spacing="3.306"><text id="t127" xml:space="preserve"><tspan font-weight="bold">2015</tspan></text><use href="#t127" x="-1.653"/><use href="#t127" x="-0.551"/><use href="#t127" x="0.551"/><use href="#t127" x="1.653"/></g>
<rect x="1207.69" y="700.50" width="30.75" height="156.25" rx="15.38" fill="#bfa65e"/>
<rect x="1207.69" y="783.79" width="30.75" height="72.96" rx="15.38" fill="#1e242e"/>
<g transform="translate(1219.62,755.40) scale(0.5888,1)" fill="#1e242e" font-size="21.08" letter-spacing="2.547"><text id="t128" xml:space="preserve"><tspan font-weight="bold">9</tspan></text><use href="#t128" x="-1.274"/><use href="#t128" x="-0.425"/><use href="#t128" x="0.425"/><use href="#t128" x="1.274"/></g>
<g transform="translate(1219.46,836.00) scale(0.6020,1)" fill="#ffffff" font-size="21.51" letter-spacing="2.658"><text id="t129" xml:space="preserve"><tspan font-weight="bold">8</tspan></text><use href="#t129" x="-1.329"/><use href="#t129" x="-0.443"/><use href="#t129" x="0.443"/><use href="#t129" x="1.329"/></g>
<g transform="translate(1206.35,894.20) scale(0.5143,1)" fill="#1e242e" font-size="20.93" letter-spacing="3.306"><text id="t130" xml:space="preserve"><tspan font-weight="bold">2016</tspan></text><use href="#t130" x="-1.653"/><use href="#t130" x="-0.551"/><use href="#t130" x="0.551"/><use href="#t130" x="1.653"/></g>
<rect x="1247.92" y="700.50" width="30.75" height="156.25" rx="15.38" fill="#bfa65e"/>
<rect x="1247.92" y="792.91" width="30.75" height="63.84" rx="15.38" fill="#1e242e"/>
<g transform="translate(1257.00,755.40) scale(0.4736,1)" fill="#1e242e" font-size="21.08" letter-spacing="3.167"><text id="t131" xml:space="preserve"><tspan font-weight="bold">10</tspan></text><use href="#t131" x="-1.584"/><use href="#t131" x="-0.528"/><use href="#t131" x="0.528"/><use href="#t131" x="1.584"/></g>
<g transform="translate(1260.14,836.00) scale(0.5267,1)" fill="#ffffff" font-size="21.51" letter-spacing="3.038"><text id="t132" xml:space="preserve"><tspan font-weight="bold">7</tspan></text><use href="#t132" x="-1.519"/><use href="#t132" x="-0.506"/><use href="#t132" x="0.506"/><use href="#t132" x="1.519"/></g>
<g transform="translate(1245.85,894.20) scale(0.5089,1)" fill="#1e242e" font-size="20.93" letter-spacing="3.340"><text id="t133" xml:space="preserve"><tspan font-weight="bold">2017</tspan></text><use href="#t133" x="-1.670"/><use href="#t133" x="-0.557"/><use href="#t133" x="0.557"/><use href="#t133" x="1.670"/></g>
<rect x="1288.15" y="700.50" width="30.75" height="156.25" rx="15.38" fill="#bfa65e"/>
<rect x="1288.15" y="820.27" width="30.75" height="36.48" rx="15.38" fill="#1e242e"/>
<g transform="translate(1297.33,755.40) scale(0.4651,1)" fill="#1e242e" font-size="21.08" letter-spacing="3.225"><text id="t134" xml:space="preserve"><tspan font-weight="bold">13</tspan></text><use href="#t134" x="-1.613"/><use href="#t134" x="-0.538"/><use href="#t134" x="0.538"/><use href="#t134" x="1.613"/></g>
<g transform="translate(1299.92,846.10) scale(0.6020,1)" fill="#ffffff" font-size="21.51" letter-spacing="2.658"><text id="t135" xml:space="preserve"><tspan font-weight="bold">4</tspan></text><use href="#t135" x="-1.329"/><use href="#t135" x="-0.443"/><use href="#t135" x="0.443"/><use href="#t135" x="1.329"/></g>
<g transform="translate(1285.35,894.20) scale(0.5197,1)" fill="#1e242e" font-size="20.93" letter-spacing="3.271"><text id="t136" xml:space="preserve"><tspan font-weight="bold">2018</tspan></text><use href="#t136" x="-1.636"/><use href="#t136" x="-0.545"/><use href="#t136" x="0.545"/><use href="#t136" x="1.636"/></g>
<rect x="1328.38" y="700.50" width="30.75" height="156.25" rx="15.38" fill="#bfa65e"/>
<rect x="1328.38" y="820.27" width="30.75" height="36.48" rx="15.38" fill="#1e242e"/>
<g transform="translate(1337.56,755.40) scale(0.4651,1)" fill="#1e242e" font-size="21.08" letter-spacing="3.225"><text id="t137" xml:space="preserve"><tspan font-weight="bold">13</tspan></text><use href="#t137" x="-1.613"/><use href="#t137" x="-0.538"/><use href="#t137" x="0.538"/><use href="#t137" x="1.613"/></g>
<g transform="translate(1340.15,846.10) scale(0.6020,1)" fill="#ffffff" font-size="21.51" letter-spacing="2.658"><text id="t138" xml:space="preserve"><tspan font-weight="bold">4</tspan></text><use href="#t138" x="-1.329"/><use href="#t138" x="-0.443"/><use href="#t138" x="0.443"/><use href="#t138" x="1.329"/></g>
<g transform="translate(1324.60,894.20) scale(0.5250,1)" fill="#1e242e" font-size="20.93" letter-spacing="3.238"><text id="t139" xml:space="preserve"><tspan font-weight="bold">2019</tspan></text><use href="#t139" x="-1.619"/><use href="#t139" x="-0.540"/><use href="#t139" x="0.540"/><use href="#t139" x="1.619"/></g>
<rect x="1368.61" y="700.50" width="30.75" height="156.25" rx="15.38" fill="#bfa65e"/>
<rect x="1368.61" y="792.91" width="30.75" height="63.84" rx="15.38" fill="#1e242e"/>
<g transform="translate(1377.68,755.40) scale(0.4736,1)" fill="#1e242e" font-size="21.08" letter-spacing="3.167"><text id="t140" xml:space="preserve"><tspan font-weight="bold">10</tspan></text><use href="#t140" x="-1.584"/><use href="#t140" x="-0.528"/><use href="#t140" x="0.528"/><use href="#t140" x="1.584"/></g>
<g transform="translate(1380.83,836.00) scale(0.5267,1)" fill="#ffffff" font-size="21.51" letter-spacing="3.038"><text id="t141" xml:space="preserve"><tspan font-weight="bold">7</tspan></text><use href="#t141" x="-1.519"/><use href="#t141" x="-0.506"/><use href="#t141" x="0.506"/><use href="#t141" x="1.519"/></g>
<g transform="translate(1364.35,894.20) scale(0.5798,1)" fill="#1e242e" font-size="20.93" letter-spacing="2.932"><text id="t142" xml:space="preserve"><tspan font-weight="bold">2020</tspan></text><use href="#t142" x="-1.466"/><use href="#t142" x="-0.489"/><use href="#t142" x="0.489"/><use href="#t142" x="1.466"/></g>
<rect x="1408.84" y="700.50" width="30.75" height="156.25" rx="15.38" fill="#bfa65e"/>
<rect x="1408.84" y="792.91" width="30.75" height="63.84" rx="15.38" fill="#1e242e"/>
<g transform="translate(1417.91,755.40) scale(0.4736,1)" fill="#1e242e" font-size="21.08" letter-spacing="3.167"><text id="t143" xml:space="preserve"><tspan font-weight="bold">10</tspan></text><use href="#t143" x="-1.584"/><use href="#t143" x="-0.528"/><use href="#t143" x="0.528"/><use href="#t143" x="1.584"/></g>
<g transform="translate(1421.06,836.00) scale(0.5267,1)" fill="#ffffff" font-size="21.51" letter-spacing="3.038"><text id="t144" xml:space="preserve"><tspan font-weight="bold">7</tspan></text><use href="#t144" x="-1.519"/><use href="#t144" x="-0.506"/><use href="#t144" x="0.506"/><use href="#t144" x="1.519"/></g>
<g transform="translate(1407.10,894.20) scale(0.5143,1)" fill="#1e242e" font-size="20.93" letter-spacing="3.306"><text id="t145" xml:space="preserve"><tspan font-weight="bold">2021</tspan></text><use href="#t145" x="-1.653"/><use href="#t145" x="-0.551"/><use href="#t145" x="0.551"/><use href="#t145" x="1.653"/></g>
<rect x="1449.07" y="700.50" width="30.75" height="156.25" rx="15.38" fill="#bfa65e"/>
<rect x="1449.07" y="792.91" width="30.75" height="63.84" rx="15.38" fill="#1e242e"/>
<g transform="translate(1458.14,755.40) scale(0.4736,1)" fill="#1e242e" font-size="21.08" letter-spacing="3.167"><text id="t146" xml:space="preserve"><tspan font-weight="bold">10</tspan></text><use href="#t146" x="-1.584"/><use href="#t146" x="-0.528"/><use href="#t146" x="0.528"/><use href="#t146" x="1.584"/></g>
<g transform="translate(1461.29,836.00) scale(0.5267,1)" fill="#ffffff" font-size="21.51" letter-spacing="3.038"><text id="t147" xml:space="preserve"><tspan font-weight="bold">7</tspan></text><use href="#t147" x="-1.519"/><use href="#t147" x="-0.506"/><use href="#t147" x="0.506"/><use href="#t147" x="1.519"/></g>
<g transform="translate(1446.35,894.20) scale(0.5841,1)" fill="#1e242e" font-size="20.93" letter-spacing="2.911"><text id="t148" xml:space="preserve"><tspan font-weight="bold">2022</tspan></text><use href="#t148" x="-1.455"/><use href="#t148" x="-0.485"/><use href="#t148" x="0.485"/><use href="#t148" x="1.455"/></g>
<rect x="1489.30" y="700.50" width="30.75" height="156.25" rx="15.38" fill="#bfa65e"/>
<rect x="1489.30" y="802.03" width="30.75" height="54.72" rx="15.38" fill="#1e242e"/>
<g transform="translate(1500.12,755.40) scale(0.3412,1)" fill="#1e242e" font-size="21.08" letter-spacing="4.397"><text id="t149" xml:space="preserve"><tspan font-weight="bold">11</tspan></text><use href="#t149" x="-2.198"/><use href="#t149" x="-0.733"/><use href="#t149" x="0.733"/><use href="#t149" x="2.198"/></g>
<g transform="translate(1501.07,836.00) scale(0.6020,1)" fill="#ffffff" font-size="21.51" letter-spacing="2.658"><text id="t150" xml:space="preserve"><tspan font-weight="bold">6</tspan></text><use href="#t150" x="-1.329"/><use href="#t150" x="-0.443"/><use href="#t150" x="0.443"/><use href="#t150" x="1.329"/></g>
<g transform="translate(1488.35,894.20) scale(0.5894,1)" fill="#1e242e" font-size="20.93" letter-spacing="2.884"><text id="t151" xml:space="preserve"><tspan font-weight="bold">2023</tspan></text><use href="#t151" x="-1.442"/><use href="#t151" x="-0.481"/><use href="#t151" x="0.481"/><use href="#t151" x="1.442"/></g>
<rect x="1529.53" y="700.50" width="30.75" height="156.25" rx="15.38" fill="#bfa65e"/>
<rect x="1529.53" y="802.03" width="30.75" height="54.72" rx="15.38" fill="#1e242e"/>
<g transform="translate(1540.36,755.40) scale(0.3412,1)" fill="#1e242e" font-size="21.08" letter-spacing="4.397"><text id="t152" xml:space="preserve"><tspan font-weight="bold">11</tspan></text><use href="#t152" x="-2.198"/><use href="#t152" x="-0.733"/><use href="#t152" x="0.733"/><use href="#t152" x="2.198"/></g>
<g transform="translate(1541.30,836.00) scale(0.6020,1)" fill="#ffffff" font-size="21.51" letter-spacing="2.658"><text id="t153" xml:space="preserve"><tspan font-weight="bold">6</tspan></text><use href="#t153" x="-1.329"/><use href="#t153" x="-0.443"/><use href="#t153" x="0.443"/><use href="#t153" x="1.329"/></g>
<g transform="translate(1531.35,894.20) scale(0.5680,1)" fill="#1e242e" font-size="20.93" letter-spacing="2.993"><text id="t154" xml:space="preserve"><tspan font-weight="bold">2024</tspan></text><use href="#t154" x="-1.497"/><use href="#t154" x="-0.499"/><use href="#t154" x="0.499"/><use href="#t154" x="1.497"/></g>
<rect x="1180.6" y="918.7" width="32.5" height="32.3" rx="14.8" fill="#1e242e"/>
<rect x="1308.6" y="917.7" width="32.5" height="32.3" rx="14.8" fill="#bfa65e"/>
<g transform="translate(1220.10,941.20) scale(0.6014,1)" fill="#1e242e" font-size="27.03" letter-spacing="1.663"><text id="t155" xml:space="preserve"><tspan font-weight="normal">Mulher</tspan></text><use href="#t155" x="-0.831"/><use href="#t155" x="0.831"/></g>
<g transform="translate(1347.30,941.20) scale(0.5895,1)" fill="#1e242e" font-size="27.03" letter-spacing="1.696"><text id="t156" xml:space="preserve"><tspan font-weight="normal">Homem</tspan></text><use href="#t156" x="-0.848"/><use href="#t156" x="0.848"/></g>
<text x="581.30" y="996.80" font-size="17.25" font-weight="bold" fill="#ffffff" text-anchor="middle" xml:space="preserve">REALIZAÇÃO</text>
<text x="581.30" y="1017.80" font-size="17.25" font-weight="bold" fill="#ffffff" text-anchor="middle" xml:space="preserve">Universidade Federal do Pará</text>
<text x="583.70" y="1038.80" font-size="17.25" font-weight="bold" fill="#ffffff" text-anchor="middle" xml:space="preserve">Instituto de Ciências Extas e Naturais</text>
<text x="583.70" y="1059.80" font-size="17.25" font-weight="bold" fill="#ffffff" text-anchor="middle" xml:space="preserve">Programa de Pós-Graduação em Segurança</text>
<text x="583.70" y="1080.80" font-size="17.25" font-weight="bold" fill="#ffffff" text-anchor="middle" xml:space="preserve">Pública</text>
<text x="583.70" y="1102.00" font-size="17.25" font-weight="bold" fill="#ffffff" text-anchor="middle" xml:space="preserve">Resolução Nº 5.983/2025- CONSEPE/UFPA,</text>
<text x="581.30" y="1122.80" font-size="17.25" font-weight="bold" fill="#ffffff" text-anchor="middle" xml:space="preserve">de 15 de outubro de 2025</text>
<text x="1193.50" y="1003.70" font-size="18.67" font-weight="bold" fill="#ffffff" text-anchor="middle" xml:space="preserve">COMO REFERENCIAR ESSA OBRA</text>
<text x="799.30" y="1026.80" font-size="18.67" font-weight="bold" fill="#ffffff" text-anchor="start" word-spacing="9.493" xml:space="preserve">OLIVEIRA, Daniela Sousa dos Santos de; RAMOS, Edson Marcos Leal Soares;</text>
<text x="799.30" y="1049.73" font-size="18.67" font-weight="bold" fill="#ffffff" text-anchor="start" word-spacing="5.438" xml:space="preserve">BERNARDO, Alethea Maria Carolina Sales; CORREA, Cássia Barbosa; LIMA, Danilo</text>
<text x="799.30" y="1072.66" font-size="18.67" font-weight="bold" fill="#ffffff" text-anchor="start" word-spacing="0.848" xml:space="preserve">Peres. Infográfico – O Papel das Mulheres nas Funções de Liderança da Polícia Civil do</text>
<text x="799.30" y="1095.59" font-size="18.67" font-weight="bold" fill="#ffffff" text-anchor="start" word-spacing="0.670" xml:space="preserve">Estado do Pará, no Período de 2013 a 2024. Programa de Pós-Graduação em Segurança</text>
<text x="799.30" y="1118.52" font-size="18.67" font-weight="bold" fill="#ffffff" text-anchor="start" xml:space="preserve">Pública. Instituto de Ciências Exatas e Naturais. Universidade Federal do Pará, 2025.</text>
<g fill="#1e242e">
<path d="M103.3 680.2 L112 683.8 Q114.2 685 113.6 688 L112 691 Q103.3 687.6 94.7 691 L93.1 688 Q92.5 685 94.7 683.8 Z"/>
<path d="M96.3 690.6 Q103.3 688 110.4 690.6 Q111.2 700.8 103.3 700.8 Q95.5 700.8 96.3 690.6 Z"/>
<path d="M94.5 702.3 H112.3 Q118.3 702.6 119.3 712 L120.2 731.5 Q120.2 734.3 117.6 734.3 Q115 734.3 115 731.5 L113.6 712 V723.8 H93.2 V712 L91.8 731.5 Q91.8 734.3 89.2 734.3 Q86.6 734.3 86.6 731.5 L87.5 712 Q88.5 702.6 94.5 702.3 Z"/>
<path d="M94.3 725.3 H112.5 V760.5 Q112.5 763.8 109 763.8 H107.6 Q104.2 763.8 104.2 760.5 V731 H102.6 V760.5 Q102.6 763.8 99.2 763.8 H97.8 Q94.3 763.8 94.3 760.5 Z"/>
</g>
<path d="M99.2 702.3 L101.3 708 L103.3 704.6 L105.4 708 L107.5 702.3 L105.2 702.3 L103.3 704.2 L101.4 702.3 Z" fill="#e5e5e5"/>
<circle cx="107.7" cy="712.8" r="1.6" fill="#e5e5e5"/>
<path d="M106.2 723.3 v3.4 M108.4 723.3 v3.4" stroke="#e5e5e5" stroke-width="0.9"/>
<path d="M95.5 689.3 Q103.3 686.4 111.1 689.3" stroke="#e5e5e5" stroke-width="0.9" fill="none"/>
<circle cx="103.3" cy="684" r="1.2" fill="#e5e5e5"/>
<clipPath id="bclip"><circle cx="762.40" cy="315.30" r="48.9"/></clipPath>
<g clip-path="url(#bclip)">
<rect x="700" y="250" width="130" height="130" fill="#fbfbfb"/>
<rect x="729" y="262" width="68.7" height="106" fill="#e2e2e2"/>
<path d="M763 270.2 Q769 274.6 783.9 273.4 Q788 281 797.6 288 Q793.5 299 795.6 306 Q798.6 320 796.2 331 Q792 349 763 361.8 Q734 349 729.8 331 Q727.4 320 730.4 306 Q732.5 299 728.4 288 Q738 281 742.1 273.4 Q757 274.6 763 270.2 Z" fill="#bda25a"/>
<path d="M788.00 286 l8.00 4 l-3.50 5 l2.50 6.5 l-7.00 -9.5" fill="#c4ab66" stroke="#2a2618" stroke-width="0.5"/>
<path d="M788.00 343.5 l8.00 -4 l-3.50 -5 l2.50 -6.5 l-7.00 9.5" fill="#c4ab66" stroke="#2a2618" stroke-width="0.5"/>
<path d="M738.00 286 l-8.00 4 l3.50 5 l-2.50 6.5 l7.00 -9.5" fill="#c4ab66" stroke="#2a2618" stroke-width="0.5"/>
<path d="M738.00 343.5 l-8.00 -4 l3.50 -5 l-2.50 -6.5 l7.00 9.5" fill="#c4ab66" stroke="#2a2618" stroke-width="0.5"/>
<path d="M739.2 282 Q763 276.5 787.5 282 L787.8 294.5 Q763 288 738.9 294.5 Z" fill="#b89e56" stroke="#2a2618" stroke-width="0.6"/>
<path d="M739.2 334.5 Q763 341.5 787.5 334.5 L787.8 347 Q763 353 738.9 347 Z" fill="#b89e56" stroke="#2a2618" stroke-width="0.6"/>
</g>
<g transform="translate(743.45,290.30) scale(0.8319,1)" fill="#0c0c0c" font-size="10.61" letter-spacing="0.601"><text id="t157" xml:space="preserve"><tspan font-weight="bold">POLÍCIA</tspan></text><use href="#t157" x="-0.301"/><use href="#t157" x="0.301"/></g>
<g transform="translate(747.75,346.20) scale(1.1157,1)" fill="#0c0c0c" font-size="10.03" letter-spacing="0.448"><text id="t158" xml:space="preserve"><tspan font-weight="bold">CIVIL</tspan></text><use href="#t158" x="-0.224"/><use href="#t158" x="0.224"/></g>
<g transform="translate(759.10,357.30) scale(1.1029,1)" fill="#0c0c0c" font-size="5.38"><text xml:space="preserve"><tspan font-weight="bold">PA</tspan></text></g>
<circle cx="763" cy="314" r="19.2" fill="none" stroke="#2f2aa6" stroke-width="5.4"/>
<circle cx="763" cy="314" r="19.2" fill="none" stroke="#b9b6e6" stroke-width="1.6" stroke-dasharray="1 1.1" opacity="0.75"/>
<polygon points="763.00,301.00 766.29,310.07 775.93,310.40 768.33,316.33 770.99,325.60 763.00,320.20 755.01,325.60 757.67,316.33 750.07,310.40 759.71,310.07" fill="#eeb12c" stroke="#8a6a22" stroke-width="0.5"/>
<clipPath id="fclip"><circle cx="763" cy="314" r="5.4"/></clipPath>
<g clip-path="url(#fclip)"><rect x="756" y="307" width="14" height="14" fill="#e0262b"/><path d="M755 310.5 L771 317.5" stroke="#fff" stroke-width="4.2"/><circle cx="763" cy="314" r="1.1" fill="#2a3a9a"/></g>
<g fill="#1e242e">
<circle cx="1129.2" cy="267.3" r="10.35"/>
<path d="M1114.9 285.8 Q1129.2 273 1143.3 285.8 Z"/>
<path d="M1109 288.4 H1149.8 Q1151.3 288.4 1151.1 290 L1148.9 306.3 Q1148.7 307.6 1147.5 307.6 H1111.3 Q1110.1 307.6 1109.9 306.3 L1107.7 290 Q1107.5 288.4 1109 288.4 Z"/>
<path d="M1157.3 293.4 H1167.2 Q1168.8 293.4 1168.7 295 L1167.4 306 Q1167.2 307.2 1166 307.2 H1158.8 Q1157.6 307.2 1157.4 306 L1156.1 295 Q1156 293.4 1157.3 293.4 Z"/>
<rect x="1104.9" y="309.9" width="70.9" height="5" rx="0.5"/>
<rect x="1107.1" y="317" width="66.7" height="4.8" rx="0.5"/>
</g>
<path d="M1168 297.4 H1169.8 Q1172.9 297.6 1172.9 301 Q1172.9 304.6 1169.8 304.8 H1167.6" fill="none" stroke="#1e242e" stroke-width="2"/>
<circle cx="1129.2" cy="297.9" r="3.2" fill="#e5e5e5"/>
<g fill="#1e242e"><path fill-rule="evenodd" d="M1159.45 269.70 m-13.30 0 a13.30 13.30 0 1 0 26.60 0 a13.30 13.30 0 1 0 -26.60 0 Z M1159.45 269.70 m-8.60 0 a8.60 8.60 0 1 1 17.20 0 a8.60 8.60 0 1 1 -17.20 0 Z"/><rect x="1157.00" y="253.30" width="4.90" height="4.30" transform="rotate(0.0 1159.45 269.70)"/><rect x="1157.00" y="253.30" width="4.90" height="4.30" transform="rotate(45.0 1159.45 269.70)"/><rect x="1157.00" y="253.30" width="4.90" height="4.30" transform="rotate(90.0 1159.45 269.70)"/><rect x="1157.00" y="253.30" width="4.90" height="4.30" transform="rotate(135.0 1159.45 269.70)"/><rect x="1157.00" y="253.30" width="4.90" height="4.30" transform="rotate(180.0 1159.45 269.70)"/><rect x="1157.00" y="253.30" width="4.90" height="4.30" transform="rotate(225.0 1159.45 269.70)"/><rect x="1157.00" y="253.30" width="4.90" height="4.30" transform="rotate(270.0 1159.45 269.70)"/><rect x="1157.00" y="253.30" width="4.90" height="4.30" transform="rotate(315.0 1159.45 269.70)"/></g>
<g fill="#1e242e">
<path d="M1466.7 371.2 Q1486.2 358.6 1505.9 371.8 L1501.7 382.9 Q1486.2 372.6 1471.1 382.9 Z"/>
<path fill-rule="evenodd" d="M1469.2 387.3 Q1486.2 374.6 1503 387.3 Q1508 399 1502.2 413 H1493.5 Q1486.2 417.6 1479 413 H1470.2 Q1464.4 399 1469.2 387.3 Z M1489.6 386.1 Q1484 394.5 1474 397.4 Q1474.6 412.6 1486.2 412.8 Q1498 412.6 1498.4 397.4 Q1493 393.5 1489.6 386.1 Z"/>
<path d="M1477 412.5 h3 l-0.3 7 q-1.2 1.4 -2.4 0 Z M1492.3 412.5 h3 l-0.3 7 q-1.2 1.4 -2.4 0 Z"/>
<path d="M1472.3 420.1 L1486.2 434.4 L1500.1 420.1 Q1514.8 423.5 1514.8 436 V441.6 Q1514.8 442.9 1513.5 442.9 H1459.4 Q1458.1 442.9 1458.1 441.6 V436 Q1458.1 423.5 1472.3 420.1 Z"/>
</g>
<path d="M1482.70 371.90 h7.00 M1486.20 368.40 v7.00" stroke="#e5e5e5" stroke-width="2.60" stroke-linecap="round" fill="none"/>
<path d="M1494.60 434.80 h8.40 M1498.80 430.60 v8.40" stroke="#e5e5e5" stroke-width="2.60" stroke-linecap="round" fill="none"/>
<path d="M814.3 528 V521.3 H870.3 V557.6 H820.2" fill="none" stroke="#4a505c" stroke-width="1.1"/>
<path d="M823.2 527.1 h6.4 M826.4 528.6 l1.6 3.2 l2.8 0.4 M855.9 524.6 h6 M858.7 525.5 l-1.2 3 l-4 0" fill="none" stroke="#4a505c" stroke-width="0.7"/>
<path d="M856.1 550.6 h10.8 M856.1 553.4 h10.8" fill="none" stroke="#5a606b" stroke-width="1.1"/>
<g fill="#1e242e"><path fill-rule="evenodd" d="M843.30 538.50 m-9.00 0 a9.00 9.00 0 1 0 18.00 0 a9.00 9.00 0 1 0 -18.00 0 Z M843.30 538.50 m-0.00 0 a0.00 0.00 0 1 1 0.00 0 a0.00 0.00 0 1 1 -0.00 0 Z"/><rect x="842.15" y="527.50" width="2.30" height="3.20" transform="rotate(0.0 843.30 538.50)"/><rect x="842.15" y="527.50" width="2.30" height="3.20" transform="rotate(25.7 843.30 538.50)"/><rect x="842.15" y="527.50" width="2.30" height="3.20" transform="rotate(51.4 843.30 538.50)"/><rect x="842.15" y="527.50" width="2.30" height="3.20" transform="rotate(77.1 843.30 538.50)"/><rect x="842.15" y="527.50" width="2.30" height="3.20" transform="rotate(102.9 843.30 538.50)"/><rect x="842.15" y="527.50" width="2.30" height="3.20" transform="rotate(128.6 843.30 538.50)"/><rect x="842.15" y="527.50" width="2.30" height="3.20" transform="rotate(154.3 843.30 538.50)"/><rect x="842.15" y="527.50" width="2.30" height="3.20" transform="rotate(180.0 843.30 538.50)"/><rect x="842.15" y="527.50" width="2.30" height="3.20" transform="rotate(205.7 843.30 538.50)"/><rect x="842.15" y="527.50" width="2.30" height="3.20" transform="rotate(231.4 843.30 538.50)"/><rect x="842.15" y="527.50" width="2.30" height="3.20" transform="rotate(257.1 843.30 538.50)"/><rect x="842.15" y="527.50" width="2.30" height="3.20" transform="rotate(282.9 843.30 538.50)"/><rect x="842.15" y="527.50" width="2.30" height="3.20" transform="rotate(308.6 843.30 538.50)"/><rect x="842.15" y="527.50" width="2.30" height="3.20" transform="rotate(334.3 843.30 538.50)"/></g>
<circle cx="843.3" cy="538.5" r="4.3" fill="none" stroke="#e5e5e5" stroke-width="2.2"/>
<g fill="#1e242e">
<circle cx="811.5" cy="534.1" r="4.55"/>
<path d="M806.3 540.2 H814 L829 537.4 Q830.8 537.6 830.6 539.2 Q830.4 540.4 829 540.8 L816.9 543.2 V574 Q816.9 576.5 814.5 576.5 Q812.1 576.5 812.1 574 V556 H811.3 V574 Q811.3 576.5 808.7 576.5 Q806.1 576.5 806.1 574 V548 L805.3 557 Q805.1 558.4 803.7 558.4 Q802.2 558.2 802.3 556.8 L803.2 544 Q803.6 540.4 806.3 540.2 Z"/>
<circle cx="831.80" cy="566.3" r="4.45"/>
<path d="M821.90 582.9 Q823.20 572.1 827.40 572.1 H836.20 Q840.40 572.1 841.70 582.9 Z"/>
<circle cx="848.50" cy="566.3" r="4.45"/>
<path d="M838.60 582.9 Q839.90 572.1 844.10 572.1 H852.90 Q857.10 572.1 858.40 582.9 Z"/>
<circle cx="865.40" cy="566.3" r="4.45"/>
<path d="M855.50 582.9 Q856.80 572.1 861.00 572.1 H869.80 Q874.00 572.1 875.30 582.9 Z"/>
</g>
<path d="M825.60 583 l0.9 -5.2 M838.00 583 l-0.9 -5.2" stroke="#e5e5e5" stroke-width="0.9" fill="none"/>
<path d="M842.30 583 l0.9 -5.2 M854.70 583 l-0.9 -5.2" stroke="#e5e5e5" stroke-width="0.9" fill="none"/>
<path d="M859.20 583 l0.9 -5.2 M871.60 583 l-0.9 -5.2" stroke="#e5e5e5" stroke-width="0.9" fill="none"/>
<path d="M811 541.4 h1.6 l1.2 10 l-2 2.6 l-2 -2.6 Z" fill="#e5e5e5"/>
<path d="M799.4 556 L806.8 549.6 L812.6 555 L805 561.6 Z" fill="#e5e5e5" stroke="#1e242e" stroke-width="0.8"/>
<g fill="#1e242e">
<path d="M1058.2 482.3 L1075 480.3 L1073.6 484.1 H1058.2 Z"/>
<path d="M1058.2 485.1 H1073 L1075.8 487.4 L1075.2 488.2 L1072.6 487.6 Q1073.6 497.2 1065.6 497.2 Q1057.6 497.2 1058.2 487 Z"/>
<path d="M1056 498.4 H1074.6 Q1076.8 498.6 1078 501 Q1080.6 506.6 1084 510 V516 Q1079 513 1076.4 510.4 L1073.9 520.4 L1074.4 524 H1057 L1058 519 L1054.6 508 Q1052.6 513 1052.9 519 L1053.2 523.6 Q1053 526.7 1050 526.7 Q1047 526.7 1046.9 523.6 L1047 514 Q1047.6 501.6 1056 498.4 Z"/>
</g>
<path d="M1062 522 L1056 556 M1069.6 522 L1075.6 556" stroke="#1e242e" stroke-width="8.4" stroke-linecap="round" fill="none"/>
<path d="M1057.5 520 H1073.9 L1074.8 527 H1056.4 Z" fill="#1e242e"/>
<path d="M1058.6 498.3 L1074 518.6" stroke="#e5e5e5" stroke-width="1" fill="none"/>
<path d="M1058 484.6 H1073.3" stroke="#e5e5e5" stroke-width="0.8" fill="none"/>
<g fill="#1e242e">
<circle cx="1098.7" cy="497.4" r="7.5"/>
<path d="M1091.5 502.4 Q1098.7 508.4 1105.9 502.4 Q1113.4 506 1113.3 514 Q1113 520 1107.4 524.4 V526.8 H1090 V524.4 Q1084.4 520 1084.1 514 Q1084 506 1091.5 502.4 Z"/>
<path d="M1090 526 H1107.9 V556.4 Q1107.9 559.8 1104.4 559.8 H1102.9 Q1099.4 559.8 1099.4 556.4 V529.5 H1098.4 V556.4 Q1098.4 559.8 1094.9 559.8 H1093.5 Q1090 559.8 1090 556.4 Z"/>
</g>
<path d="M1090.8 503 Q1098.7 509.6 1106.6 503" stroke="#e5e5e5" stroke-width="0.7" fill="none"/>
<path d="M1090.6 511 Q1088 514 1091.6 518.4 L1094.6 521.4 M1106.8 511 Q1109.4 514 1105.8 518.4 L1102.8 521.4 M1090.6 511 Q1093 514 1091.6 518.4 M1106.8 511 Q1104.4 514 1105.8 518.4" stroke="#e5e5e5" stroke-width="0.55" fill="none"/>
<path d="M1091.4 526.6 L1094.6 521.4 L1097 526 Q1098.7 528.4 1100.4 526 L1102.8 521.4 L1106 526.6 M1094.6 521.4 Q1098 524 1095.6 527.4 M1102.8 521.4 Q1099.4 524 1101.8 527.4" stroke="#e5e5e5" stroke-width="0.9" fill="none"/>
<g fill="#1e242e">
<path d="M670.2 767.5 H723.9 Q724.9 767.5 724.9 768.5 V779.8 H720.1 V772.7 H674.1 V800.8 H688.2 V805.5 H670.2 Q669.2 805.5 669.2 804.5 V768.5 Q669.2 767.5 670.2 767.5 Z"/>
<rect x="679.9" y="763" width="4.5" height="5"/><rect x="710" y="763" width="4.5" height="5"/>
<rect x="679.9" y="805" width="8.7" height="3"/>
<circle cx="682.3" cy="779.8" r="4.05"/>
<circle cx="705.4" cy="781.9" r="3.9"/><circle cx="684.5" cy="793.5" r="3.9"/>
<path d="M703.3 790.1 L709.4 793.5 L703.3 797 Z"/>
<circle cx="721.8" cy="792.7" r="8.4"/>
<path d="M713 804.6 H731 Q734 804.8 735 807.6 L738.2 818 Q738.5 819.5 738 820.8 L734.2 830 Q733.4 831.7 731.4 831.7 H714.4 Q711.9 831.7 711.7 829.4 V812.4 H705 L694 806.6 Q691.3 804.6 692.7 802 Q694.3 799.6 697 800.8 L705.6 805.4 Z"/>
<path d="M695.3 812.5 L699.1 814.4 V816.5 L707.9 824.6 V831.2 L699.8 824 H699.1 V831.5 H694.9 V824 H693.6 L685.6 831.5 H680.8 Z"/>
</g>
<path d="M689 779.6 H692 Q695.3 779.6 695.3 783 V790 Q695.3 793.5 699 793.5 H704" fill="none" stroke="#1e242e" stroke-width="2.9"/>
<path d="M703.90 780.40 l3 3 M706.90 780.40 l-3 3" stroke="#e5e5e5" stroke-width="1.2" stroke-linecap="round"/>
<path d="M683.00 792.00 l3 3 M686.00 792.00 l-3 3" stroke="#e5e5e5" stroke-width="1.2" stroke-linecap="round"/>
<g transform="translate(52.00,1002.20) scale(1.0000)">
<rect x="-2.4" y="70" width="4.8" height="11.4" fill="#d9c22e"/><rect x="-3" y="76" width="6" height="1.6" fill="#b89c1e"/>
<path d="M-6.6 17.4 Q-7.4 10 -4.4 7.6 L-3.6 10.4 Q-3 3 0 0 Q0.6 4 3.4 7.4 Q4.4 5.4 4.4 3.6 Q8 8 6.6 17.4 Z" fill="#d8261c" stroke="#7a1410" stroke-width="0.5"/>
<path d="M-4 16.8 Q-4.6 12 -2 10.4 Q-2 13 -0.4 12 Q-1 7.6 0.8 5 Q1 9 3 11 Q4.6 13 4 16.8 Z" fill="#f6e21c"/>
<path d="M0.6 15.6 Q-0.6 12 1.4 9.6 Q1.6 12.6 2.6 15.6 Z" fill="#e8541c"/>
<path d="M-5.8 17.4 H5.6 L4.6 21.9 H-4.8 Z" fill="#c9b52c"/>
<path d="M-21.8 22 H21.8 V60 Q21.8 71.8 0 71.8 Q-21.8 71.8 -21.8 60 Z" fill="#2d92dc"/>
<path d="M-20.2 23.6 H20.2 V60 Q20.2 70.2 0 70.2 Q-20.2 70.2 -20.2 60 Z" fill="#2b2a8e"/>
<path d="M-18.4 25.4 H18.4 V59.6 Q18.4 68.2 0 68.2 Q-18.4 68.2 -18.4 59.6 Z" fill="#ffffff"/>
<path d="M-33 30.6 Q-22 26.6 -9 29.4 Q-2 30.6 0.6 34 Q2 28.6 10 27.4 Q20 26 29 28 Q24 30.4 16 30 Q8 30.6 6 34.6 Q12 36 16 41 Q18 44 17.4 46.4 Q13.6 41 7.6 39.6 Q6 43 2.6 44.6 Q3.6 40.6 0 39.4 Q-4 42 -2.4 47.4 Q-8 44 -6.4 38.6 Q-11 37.4 -16.6 39.4 Q-13 35 -7.6 34.6 Q-12 31 -20 31.6 Q-27 31.4 -33 30.6 Z" fill="#a3a3a3" stroke="#5c5c5c" stroke-width="0.5"/>
<path d="M-2 33.4 Q2 36 1 42 Q-2 40 -3.4 36 Z" fill="#4a4a4a"/>
<path d="M-12.4 50.4 L-5.6 44.6 L1.4 46.4 L8.8 44 L12 47.4 L7.6 54.4 L0.4 52.6 L-4.6 54.8 Z" fill="#ffffff" stroke="#2a2a2a" stroke-width="0.9"/>
<path d="M-12.4 50.4 L-4.6 54.8 L0.4 52.6 L7.6 54.4" fill="none" stroke="#222" stroke-width="1.7"/>
<path d="M-27.6 64 L-28.8 79.4 L-8.6 72 L-17 67 Z" fill="#d8261c" stroke="#9a9a9a" stroke-width="0.4"/>
<path d="M28 64 L29.2 79.4 L9 72 L17.4 67 Z" fill="#d8261c" stroke="#9a9a9a" stroke-width="0.4"/>
<path d="M-29 63.6 Q-27 69.6 -16 70 L-20 65 Z M29.4 63.6 Q27.4 69.6 16.4 70 L20.4 65 Z" fill="#efefef" stroke="#9a9a9a" stroke-width="0.4"/>
<g transform="translate(0,3.4)"><path d="M-32 58 Q-33.6 54 -29 53 Q0 48.4 29.4 53 Q34 54 32.4 58 Q31.6 61.6 28 60.6 Q0 56 -27.6 60.6 Q-31.2 61.6 -32 58 Z" fill="#d8261c" stroke="#b8b8b8" stroke-width="0.9"/>
<path d="M-28.6 56.8 Q0 52 28.8 56.8" fill="none" stroke="#f4c4c0" stroke-width="1.8" stroke-dasharray="1.1 0.7"/></g>
</g>
<circle cx="130.10" cy="1048.80" r="35.50" fill="#ffffff" stroke="#2b2a8e" stroke-width="10.40"/>
<circle cx="130.10" cy="1048.80" r="39.50" fill="none" stroke="#ffffff" stroke-width="0.5"/>
<defs><path id="sealt" d="M99.95 1036.00 A32.75 32.75 0 0 1 160.25 1036.00"/>
<path id="sealb" d="M93.15 1038.90 A38.25 38.25 0 1 0 167.05 1038.90"/></defs>
<text font-size="7.6" font-weight="bold" fill="#ffffff"><textPath href="#sealt" textLength="76.6" lengthAdjust="spacingAndGlyphs">UNIVERSIDADE FEDERAL DO PARÁ</textPath></text>
<text font-size="7.6" font-weight="bold" fill="#ffffff"><textPath href="#sealb" textLength="140.2" lengthAdjust="spacingAndGlyphs">PROGRAMA DE PÓS-GRADUAÇÃO EM SEGURANÇA PÚBLICA</textPath></text>
<rect x="95.50" y="1035.97" width="2.2" height="2.2" fill="#fff" transform="rotate(45 96.60 1037.07)"/>
<rect x="162.50" y="1035.97" width="2.2" height="2.2" fill="#fff" transform="rotate(45 163.60 1037.07)"/>
<g transform="translate(129.60,1024.20) scale(0.6060)">
<rect x="-2.4" y="70" width="4.8" height="11.4" fill="#d9c22e"/><rect x="-3" y="76" width="6" height="1.6" fill="#b89c1e"/>
<path d="M-6.6 17.4 Q-7.4 10 -4.4 7.6 L-3.6 10.4 Q-3 3 0 0 Q0.6 4 3.4 7.4 Q4.4 5.4 4.4 3.6 Q8 8 6.6 17.4 Z" fill="#d8261c" stroke="#7a1410" stroke-width="0.5"/>
<path d="M-4 16.8 Q-4.6 12 -2 10.4 Q-2 13 -0.4 12 Q-1 7.6 0.8 5 Q1 9 3 11 Q4.6 13 4 16.8 Z" fill="#f6e21c"/>
<path d="M0.6 15.6 Q-0.6 12 1.4 9.6 Q1.6 12.6 2.6 15.6 Z" fill="#e8541c"/>
<path d="M-5.8 17.4 H5.6 L4.6 21.9 H-4.8 Z" fill="#c9b52c"/>
<path d="M-21.8 22 H21.8 V60 Q21.8 71.8 0 71.8 Q-21.8 71.8 -21.8 60 Z" fill="#2d92dc"/>
<path d="M-20.2 23.6 H20.2 V60 Q20.2 70.2 0 70.2 Q-20.2 70.2 -20.2 60 Z" fill="#2b2a8e"/>
<path d="M-18.4 25.4 H18.4 V59.6 Q18.4 68.2 0 68.2 Q-18.4 68.2 -18.4 59.6 Z" fill="#ffffff"/>
<path d="M-33 30.6 Q-22 26.6 -9 29.4 Q-2 30.6 0.6 34 Q2 28.6 10 27.4 Q20 26 29 28 Q24 30.4 16 30 Q8 30.6 6 34.6 Q12 36 16 41 Q18 44 17.4 46.4 Q13.6 41 7.6 39.6 Q6 43 2.6 44.6 Q3.6 40.6 0 39.4 Q-4 42 -2.4 47.4 Q-8 44 -6.4 38.6 Q-11 37.4 -16.6 39.4 Q-13 35 -7.6 34.6 Q-12 31 -20 31.6 Q-27 31.4 -33 30.6 Z" fill="#a3a3a3" stroke="#5c5c5c" stroke-width="0.5"/>
<path d="M-2 33.4 Q2 36 1 42 Q-2 40 -3.4 36 Z" fill="#4a4a4a"/>
<path d="M-12.4 50.4 L-5.6 44.6 L1.4 46.4 L8.8 44 L12 47.4 L7.6 54.4 L0.4 52.6 L-4.6 54.8 Z" fill="#ffffff" stroke="#2a2a2a" stroke-width="0.9"/>
<path d="M-12.4 50.4 L-4.6 54.8 L0.4 52.6 L7.6 54.4" fill="none" stroke="#222" stroke-width="1.7"/>
<path d="M-27.6 64 L-28.8 79.4 L-8.6 72 L-17 67 Z" fill="#d8261c" stroke="#9a9a9a" stroke-width="0.4"/>
<path d="M28 64 L29.2 79.4 L9 72 L17.4 67 Z" fill="#d8261c" stroke="#9a9a9a" stroke-width="0.4"/>
<path d="M-29 63.6 Q-27 69.6 -16 70 L-20 65 Z M29.4 63.6 Q27.4 69.6 16.4 70 L20.4 65 Z" fill="#efefef" stroke="#9a9a9a" stroke-width="0.4"/>
<g transform="translate(0,3.4)"><path d="M-32 58 Q-33.6 54 -29 53 Q0 48.4 29.4 53 Q34 54 32.4 58 Q31.6 61.6 28 60.6 Q0 56 -27.6 60.6 Q-31.2 61.6 -32 58 Z" fill="#d8261c" stroke="#b8b8b8" stroke-width="0.9"/>
<path d="M-28.6 56.8 Q0 52 28.8 56.8" fill="none" stroke="#f4c4c0" stroke-width="1.8" stroke-dasharray="1.1 0.7"/></g>
</g>
<g fill="none" stroke="#1a8fd6" stroke-width="2.0" stroke-linecap="round">
<ellipse cx="215.4" cy="1043.2" rx="33.1" ry="13.6" transform="rotate(2 215.4 1043.2)"/>
<path d="M235.6 1020.5 Q214 1023.6 203.6 1032 Q189.6 1043 195.6 1053.4 Q201.6 1062.6 220 1061.4 Q239 1059.4 241.4 1048 Q243 1036.4 226 1031.4 Q215 1028.4 206.5 1030.2"/>
</g>
<circle cx="235.6" cy="1020.5" r="1.3" fill="#1a8fd6"/>
<circle cx="215.1" cy="1044.5" r="5.6" fill="#0a9e3c"/>
<g transform="translate(185.45,1080.50) scale(0.8824,1)" fill="#1a8fd6" font-size="15.99" letter-spacing="3.287"><text id="t160" xml:space="preserve"><tspan font-weight="bold">CAPES</tspan></text><use href="#t160" x="-0.397"/><use href="#t160" x="0.397"/></g>
<path d="M263.4 1057.2 V1049.6 H260.4 L264.6 1041.8 Q264.8 1029 276 1028.8 Q287.2 1029 287.6 1040 Q287.6 1044 285.6 1047 L288.4 1057.2 H281 L279.4 1049 H277 V1057.2 Z" fill="#0f5aa8"/>
<path d="M267.4 1053.4 V1041 Q267.8 1032.2 276 1032 Q284 1032.2 284.2 1040 Q284.2 1043 282.6 1045.4 L284.8 1055.6" fill="none" stroke="#fff" stroke-width="0.9"/>
<path d="M270.4 1052 V1046 M270.4 1052 H277" fill="none" stroke="#fff" stroke-width="0.9"/>
<circle cx="276" cy="1040.3" r="5.3" fill="#fff"/>
<circle cx="276" cy="1040.3" r="2.7" fill="#0f5aa8"/>
<path d="M274.6 1044 L273.6 1050 H278.4 L277.4 1044 Z" fill="#fff"/>
<text x="290.8" y="1053.1" font-size="23.2" font-weight="bold" font-style="italic" fill="#0f5aa8" stroke="#0f5aa8" stroke-width="1.3" letter-spacing="-0.4">CNPq</text>
</svg>
</body></html>
